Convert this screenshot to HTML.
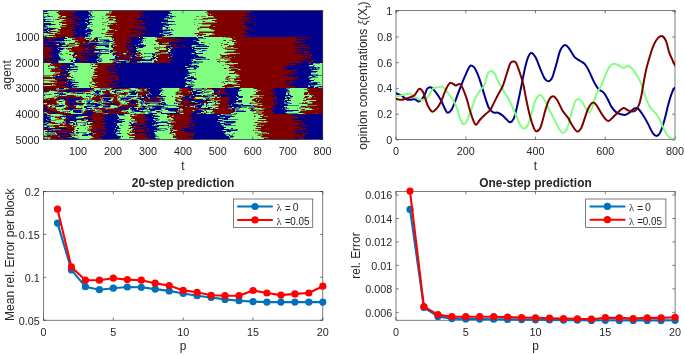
<!DOCTYPE html>
<html><head><meta charset="utf-8"><title>figure</title>
<style>
html,body{margin:0;padding:0;background:#fff;}
svg{display:block;will-change:transform;font-family:"Liberation Sans", sans-serif;}
text{fill:#262626;}
</style></head><body>
<svg width="685" height="355" viewBox="0 0 685 355">
<defs><clipPath id="chm"><rect x="43.3" y="10.5" width="279.5" height="129"/></clipPath><clipPath id="ctr"><rect x="396" y="10.5" width="279" height="129"/></clipPath></defs>
<rect width="685" height="355" fill="#fff"/>
<g clip-path="url(#chm)"><g>
<rect x="42" y="10" width="282" height="131" fill="#00008f"/>
<path fill="#407f87" d="M47 11h1v1h-1zM88 11h1v1h-1zM90 11h2v1h-2zM169 11h2v1h-2zM89 12h2v1h-2zM92 12h1v1h-1zM48 13h1v1h-1zM90 13h1v1h-1zM89 14h1v1h-1zM91 14h1v1h-1zM47 15h2v1h-2zM88 15h1v1h-1zM169 15h3v1h-3zM43 16h5v1h-5zM50 16h3v1h-3zM90 16h5v1h-5zM166 16h3v1h-3zM174 16h2v1h-2zM45 17h1v1h-1zM89 17h4v1h-4zM169 17h4v1h-4zM87 18h1v1h-1zM164 18h2v1h-2zM167 18h2v1h-2zM170 18h2v1h-2zM46 19h5v1h-5zM85 19h3v1h-3zM92 19h2v1h-2zM164 19h4v1h-4zM89 20h1v1h-1zM50 21h4v1h-4zM174 21h1v1h-1zM161 22h1v1h-1zM163 22h5v1h-5zM166 23h2v1h-2zM89 24h4v1h-4zM172 24h4v1h-4zM45 25h2v1h-2zM49 25h1v1h-1zM87 25h1v1h-1zM163 25h4v1h-4zM46 26h2v1h-2zM91 26h1v1h-1zM165 26h1v1h-1zM44 27h4v1h-4zM87 27h3v1h-3zM162 27h1v1h-1zM165 27h1v1h-1zM168 27h2v1h-2zM43 28h4v1h-4zM86 28h1v1h-1zM88 28h2v1h-2zM162 28h1v1h-1zM166 28h1v1h-1zM53 29h2v1h-2zM85 29h1v1h-1zM91 29h1v1h-1zM162 29h1v1h-1zM164 29h6v1h-6zM172 29h1v1h-1zM50 30h1v1h-1zM170 30h4v1h-4zM43 31h3v1h-3zM91 31h1v1h-1zM163 31h4v1h-4zM49 32h2v1h-2zM87 32h4v1h-4zM163 32h6v1h-6zM171 32h1v1h-1zM85 33h1v1h-1zM159 33h1v1h-1zM161 33h3v1h-3zM169 33h1v1h-1zM88 34h4v1h-4zM163 34h1v1h-1zM88 35h2v1h-2zM165 35h1v1h-1zM168 35h3v1h-3zM43 36h4v1h-4zM88 36h2v1h-2zM162 36h2v1h-2zM91 37h1v1h-1zM95 37h1v1h-1zM97 37h5v1h-5zM196 37h1v1h-1zM89 38h3v1h-3zM144 38h2v1h-2zM198 38h8v1h-8zM89 39h2v1h-2zM99 39h10v1h-10zM142 39h1v1h-1zM198 39h1v1h-1zM65 40h1v1h-1zM67 40h4v1h-4zM100 40h4v1h-4zM109 40h1v1h-1zM139 40h1v1h-1zM142 40h2v1h-2zM145 40h1v1h-1zM193 40h3v1h-3zM199 40h1v1h-1zM55 41h7v1h-7zM63 41h1v1h-1zM99 41h7v1h-7zM141 41h2v1h-2zM196 41h1v1h-1zM60 42h5v1h-5zM89 42h8v1h-8zM103 42h7v1h-7zM198 42h1v1h-1zM203 42h2v1h-2zM99 43h10v1h-10zM140 43h1v1h-1zM167 43h2v1h-2zM209 43h1v1h-1zM56 44h1v1h-1zM65 44h1v1h-1zM97 44h12v1h-12zM139 44h1v1h-1zM141 44h3v1h-3zM204 44h1v1h-1zM95 45h1v1h-1zM135 45h1v1h-1zM168 45h3v1h-3zM196 45h3v1h-3zM200 45h7v1h-7zM68 46h4v1h-4zM144 46h2v1h-2zM191 46h1v1h-1zM193 46h3v1h-3zM58 47h3v1h-3zM106 47h3v1h-3zM137 47h2v1h-2zM172 47h1v1h-1zM194 47h1v1h-1zM57 48h1v1h-1zM64 48h1v1h-1zM67 48h1v1h-1zM86 48h1v1h-1zM137 48h1v1h-1zM169 48h1v1h-1zM207 48h1v1h-1zM106 49h3v1h-3zM166 49h1v1h-1zM194 49h1v1h-1zM197 49h4v1h-4zM100 50h2v1h-2zM105 50h4v1h-4zM139 50h2v1h-2zM196 50h1v1h-1zM205 50h2v1h-2zM61 51h1v1h-1zM100 51h11v1h-11zM138 51h1v1h-1zM199 51h4v1h-4zM59 52h1v1h-1zM94 52h7v1h-7zM111 52h1v1h-1zM114 52h1v1h-1zM58 53h4v1h-4zM112 53h1v1h-1zM126 53h1v1h-1zM145 53h7v1h-7zM153 53h5v1h-5zM170 53h1v1h-1zM191 53h1v1h-1zM194 53h1v1h-1zM58 54h1v1h-1zM60 54h3v1h-3zM98 54h4v1h-4zM124 54h2v1h-2zM137 54h3v1h-3zM155 54h1v1h-1zM158 54h1v1h-1zM172 54h1v1h-1zM196 54h1v1h-1zM97 55h2v1h-2zM100 55h1v1h-1zM59 56h1v1h-1zM98 56h2v1h-2zM136 56h4v1h-4zM144 56h7v1h-7zM199 56h4v1h-4zM60 57h1v1h-1zM99 57h1v1h-1zM143 57h2v1h-2zM194 57h1v1h-1zM205 57h1v1h-1zM60 58h3v1h-3zM75 58h1v1h-1zM98 58h4v1h-4zM114 58h1v1h-1zM195 58h11v1h-11zM61 59h3v1h-3zM69 59h2v1h-2zM96 59h1v1h-1zM98 59h4v1h-4zM114 59h2v1h-2zM145 59h5v1h-5zM152 59h2v1h-2zM191 59h2v1h-2zM195 59h1v1h-1zM201 59h7v1h-7zM209 59h1v1h-1zM58 60h6v1h-6zM99 60h4v1h-4zM116 60h3v1h-3zM124 60h4v1h-4zM157 60h1v1h-1zM58 61h1v1h-1zM98 61h1v1h-1zM101 61h1v1h-1zM126 61h3v1h-3zM137 61h3v1h-3zM191 61h1v1h-1zM193 61h1v1h-1zM196 61h7v1h-7zM58 62h1v1h-1zM118 62h3v1h-3zM126 62h2v1h-2zM143 62h9v1h-9zM193 62h1v1h-1zM196 62h7v1h-7zM73 63h1v1h-1zM192 63h7v1h-7zM309 63h1v1h-1zM313 63h1v1h-1zM315 63h5v1h-5zM74 64h1v1h-1zM189 64h3v1h-3zM72 65h3v1h-3zM191 65h3v1h-3zM197 65h1v1h-1zM313 65h2v1h-2zM70 66h5v1h-5zM77 66h1v1h-1zM187 66h1v1h-1zM195 66h1v1h-1zM309 66h4v1h-4zM55 67h1v1h-1zM74 67h4v1h-4zM190 67h4v1h-4zM196 67h3v1h-3zM316 67h2v1h-2zM319 67h1v1h-1zM70 68h1v1h-1zM186 68h1v1h-1zM196 68h1v1h-1zM310 68h2v1h-2zM314 68h1v1h-1zM316 68h4v1h-4zM190 69h6v1h-6zM317 69h2v1h-2zM67 70h1v1h-1zM70 70h2v1h-2zM311 70h2v1h-2zM69 71h1v1h-1zM73 71h4v1h-4zM188 71h1v1h-1zM317 71h1v1h-1zM189 72h7v1h-7zM311 72h5v1h-5zM70 73h1v1h-1zM190 73h2v1h-2zM187 74h2v1h-2zM195 74h1v1h-1zM311 74h7v1h-7zM59 75h1v1h-1zM313 75h3v1h-3zM318 75h4v1h-4zM53 76h3v1h-3zM187 76h1v1h-1zM192 76h2v1h-2zM315 76h1v1h-1zM73 77h1v1h-1zM187 77h1v1h-1zM308 77h2v1h-2zM312 77h6v1h-6zM184 78h3v1h-3zM196 78h1v1h-1zM310 78h1v1h-1zM74 79h1v1h-1zM191 79h1v1h-1zM196 79h1v1h-1zM309 79h1v1h-1zM314 79h1v1h-1zM68 80h1v1h-1zM70 80h5v1h-5zM191 80h1v1h-1zM67 81h1v1h-1zM71 81h2v1h-2zM74 81h1v1h-1zM186 81h3v1h-3zM190 81h4v1h-4zM54 82h1v1h-1zM78 82h1v1h-1zM185 82h1v1h-1zM190 82h5v1h-5zM309 82h4v1h-4zM317 82h3v1h-3zM67 83h1v1h-1zM191 83h1v1h-1zM317 83h1v1h-1zM71 84h1v1h-1zM75 84h3v1h-3zM190 84h4v1h-4zM317 84h4v1h-4zM73 85h1v1h-1zM185 85h1v1h-1zM188 85h7v1h-7zM308 85h2v1h-2zM311 85h4v1h-4zM72 86h1v1h-1zM77 86h2v1h-2zM187 86h1v1h-1zM317 86h2v1h-2zM72 87h5v1h-5zM318 87h1v1h-1zM100 88h10v1h-10zM146 88h1v1h-1zM161 88h1v1h-1zM240 88h1v1h-1zM286 88h4v1h-4zM59 89h4v1h-4zM100 89h7v1h-7zM146 89h1v1h-1zM159 89h4v1h-4zM193 89h13v1h-13zM287 89h1v1h-1zM57 90h1v1h-1zM96 90h1v1h-1zM98 90h3v1h-3zM129 90h6v1h-6zM162 90h2v1h-2zM201 90h1v1h-1zM204 90h2v1h-2zM213 90h1v1h-1zM241 90h1v1h-1zM93 91h1v1h-1zM116 91h1v1h-1zM123 91h1v1h-1zM129 91h3v1h-3zM137 91h2v1h-2zM148 91h1v1h-1zM161 91h1v1h-1zM238 91h1v1h-1zM287 91h3v1h-3zM58 92h5v1h-5zM99 92h2v1h-2zM116 92h5v1h-5zM135 92h1v1h-1zM149 92h1v1h-1zM160 92h1v1h-1zM162 92h1v1h-1zM192 92h1v1h-1zM205 92h4v1h-4zM286 92h4v1h-4zM59 93h1v1h-1zM63 93h3v1h-3zM71 93h6v1h-6zM83 93h2v1h-2zM93 93h4v1h-4zM149 93h1v1h-1zM200 93h4v1h-4zM44 94h5v1h-5zM50 94h2v1h-2zM87 94h1v1h-1zM90 94h2v1h-2zM93 94h6v1h-6zM100 94h1v1h-1zM129 94h1v1h-1zM151 94h1v1h-1zM289 94h1v1h-1zM57 95h3v1h-3zM61 95h1v1h-1zM128 95h1v1h-1zM201 95h1v1h-1zM205 95h7v1h-7zM87 96h1v1h-1zM89 96h2v1h-2zM122 96h1v1h-1zM124 96h1v1h-1zM126 96h1v1h-1zM136 96h1v1h-1zM141 96h1v1h-1zM181 96h4v1h-4zM190 96h1v1h-1zM208 96h6v1h-6zM220 96h1v1h-1zM285 96h3v1h-3zM89 97h2v1h-2zM105 97h1v1h-1zM120 97h14v1h-14zM161 97h1v1h-1zM204 97h6v1h-6zM219 97h1v1h-1zM238 97h1v1h-1zM242 97h1v1h-1zM286 97h1v1h-1zM289 97h3v1h-3zM102 98h1v1h-1zM120 98h1v1h-1zM136 98h1v1h-1zM148 98h2v1h-2zM163 98h2v1h-2zM205 98h3v1h-3zM238 98h1v1h-1zM286 98h1v1h-1zM290 98h1v1h-1zM60 99h4v1h-4zM102 99h2v1h-2zM110 99h1v1h-1zM120 99h1v1h-1zM124 99h2v1h-2zM128 99h1v1h-1zM139 99h1v1h-1zM160 99h2v1h-2zM163 99h1v1h-1zM78 100h1v1h-1zM86 100h7v1h-7zM102 100h2v1h-2zM105 100h1v1h-1zM108 100h1v1h-1zM121 100h1v1h-1zM123 100h3v1h-3zM129 100h1v1h-1zM141 100h1v1h-1zM143 100h1v1h-1zM159 100h3v1h-3zM164 100h1v1h-1zM58 101h1v1h-1zM62 101h1v1h-1zM78 101h1v1h-1zM81 101h1v1h-1zM84 101h1v1h-1zM86 101h3v1h-3zM90 101h2v1h-2zM101 101h1v1h-1zM103 101h3v1h-3zM111 101h1v1h-1zM140 101h3v1h-3zM194 101h1v1h-1zM87 102h1v1h-1zM92 102h2v1h-2zM98 102h4v1h-4zM125 102h1v1h-1zM139 102h2v1h-2zM142 102h3v1h-3zM147 102h1v1h-1zM154 102h4v1h-4zM174 102h1v1h-1zM212 102h2v1h-2zM236 102h1v1h-1zM238 102h4v1h-4zM252 102h1v1h-1zM284 102h2v1h-2zM288 102h2v1h-2zM61 103h1v1h-1zM86 103h1v1h-1zM97 103h3v1h-3zM124 103h1v1h-1zM140 103h1v1h-1zM142 103h3v1h-3zM150 103h8v1h-8zM162 103h2v1h-2zM175 103h1v1h-1zM178 103h1v1h-1zM234 103h2v1h-2zM249 103h1v1h-1zM284 103h6v1h-6zM291 103h1v1h-1zM62 104h1v1h-1zM86 104h5v1h-5zM101 104h1v1h-1zM141 104h2v1h-2zM166 104h2v1h-2zM197 104h4v1h-4zM231 104h1v1h-1zM238 104h3v1h-3zM287 104h1v1h-1zM51 105h8v1h-8zM64 105h1v1h-1zM79 105h4v1h-4zM87 105h6v1h-6zM100 105h8v1h-8zM110 105h1v1h-1zM141 105h3v1h-3zM155 105h6v1h-6zM163 105h14v1h-14zM195 105h2v1h-2zM202 105h2v1h-2zM206 105h3v1h-3zM231 105h1v1h-1zM241 105h1v1h-1zM251 105h2v1h-2zM288 105h11v1h-11zM62 106h2v1h-2zM91 106h2v1h-2zM110 106h1v1h-1zM140 106h2v1h-2zM146 106h6v1h-6zM176 106h1v1h-1zM241 106h13v1h-13zM102 107h8v1h-8zM148 107h2v1h-2zM152 107h3v1h-3zM162 107h6v1h-6zM196 107h2v1h-2zM215 107h1v1h-1zM236 107h3v1h-3zM241 107h6v1h-6zM251 107h5v1h-5zM285 107h1v1h-1zM150 108h3v1h-3zM161 108h5v1h-5zM218 108h1v1h-1zM235 108h5v1h-5zM248 108h3v1h-3zM282 108h1v1h-1zM285 108h4v1h-4zM297 108h1v1h-1zM85 109h3v1h-3zM90 109h2v1h-2zM130 109h2v1h-2zM136 109h1v1h-1zM144 109h1v1h-1zM147 109h2v1h-2zM179 109h1v1h-1zM201 109h3v1h-3zM231 109h1v1h-1zM235 109h4v1h-4zM285 109h2v1h-2zM70 110h2v1h-2zM81 110h2v1h-2zM131 110h1v1h-1zM133 110h1v1h-1zM139 110h1v1h-1zM147 110h1v1h-1zM161 110h1v1h-1zM194 110h1v1h-1zM202 110h1v1h-1zM236 110h8v1h-8zM298 110h1v1h-1zM62 111h7v1h-7zM81 111h2v1h-2zM95 111h6v1h-6zM124 111h1v1h-1zM126 111h1v1h-1zM132 111h3v1h-3zM143 111h9v1h-9zM160 111h1v1h-1zM170 111h5v1h-5zM252 111h2v1h-2zM287 111h6v1h-6zM73 112h2v1h-2zM81 112h1v1h-1zM130 112h4v1h-4zM141 112h4v1h-4zM148 112h4v1h-4zM210 112h1v1h-1zM285 112h1v1h-1zM134 113h2v1h-2zM148 113h1v1h-1zM197 113h4v1h-4zM234 113h2v1h-2zM287 113h11v1h-11zM223 114h13v1h-13zM50 115h1v1h-1zM63 115h3v1h-3zM117 115h1v1h-1zM119 115h6v1h-6zM155 115h3v1h-3zM217 115h1v1h-1zM219 115h1v1h-1zM225 115h7v1h-7zM47 116h5v1h-5zM78 116h4v1h-4zM152 116h1v1h-1zM159 116h1v1h-1zM234 116h1v1h-1zM50 117h1v1h-1zM220 117h3v1h-3zM49 118h2v1h-2zM76 118h5v1h-5zM117 119h1v1h-1zM124 119h1v1h-1zM155 119h5v1h-5zM222 119h2v1h-2zM228 119h10v1h-10zM47 120h2v1h-2zM50 120h2v1h-2zM119 120h3v1h-3zM132 120h1v1h-1zM154 120h2v1h-2zM157 120h2v1h-2zM222 120h1v1h-1zM65 121h1v1h-1zM86 121h1v1h-1zM161 121h7v1h-7zM217 121h7v1h-7zM235 121h1v1h-1zM45 122h3v1h-3zM65 122h1v1h-1zM73 122h1v1h-1zM77 122h11v1h-11zM92 122h1v1h-1zM114 122h1v1h-1zM134 122h3v1h-3zM152 122h1v1h-1zM167 122h1v1h-1zM224 122h2v1h-2zM235 122h1v1h-1zM43 123h4v1h-4zM48 123h1v1h-1zM59 123h1v1h-1zM64 123h2v1h-2zM69 123h3v1h-3zM85 123h1v1h-1zM157 123h2v1h-2zM225 123h8v1h-8zM75 124h1v1h-1zM85 124h1v1h-1zM120 124h1v1h-1zM154 124h1v1h-1zM156 124h1v1h-1zM43 125h4v1h-4zM48 125h1v1h-1zM73 125h1v1h-1zM80 125h4v1h-4zM85 125h1v1h-1zM91 125h2v1h-2zM117 125h1v1h-1zM120 125h3v1h-3zM152 125h2v1h-2zM155 125h2v1h-2zM164 125h4v1h-4zM222 125h2v1h-2zM225 125h11v1h-11zM169 126h4v1h-4zM223 126h1v1h-1zM48 127h2v1h-2zM156 127h2v1h-2zM120 128h1v1h-1zM157 128h10v1h-10zM171 128h1v1h-1zM52 129h3v1h-3zM89 129h1v1h-1zM159 129h2v1h-2zM165 129h3v1h-3zM229 129h7v1h-7zM237 129h1v1h-1zM49 130h3v1h-3zM89 130h1v1h-1zM114 130h1v1h-1zM118 130h3v1h-3zM128 130h1v1h-1zM154 130h11v1h-11zM222 130h1v1h-1zM226 130h1v1h-1zM237 130h1v1h-1zM89 131h1v1h-1zM117 131h3v1h-3zM226 131h1v1h-1zM79 132h8v1h-8zM92 132h1v1h-1zM119 132h1v1h-1zM225 132h1v1h-1zM45 133h10v1h-10zM56 133h1v1h-1zM69 133h6v1h-6zM76 133h3v1h-3zM83 133h3v1h-3zM115 133h2v1h-2zM121 133h1v1h-1zM134 133h1v1h-1zM171 133h1v1h-1zM175 133h1v1h-1zM224 133h1v1h-1zM233 133h2v1h-2zM46 134h10v1h-10zM82 134h3v1h-3zM116 134h1v1h-1zM155 134h1v1h-1zM225 134h5v1h-5zM232 134h1v1h-1zM75 135h3v1h-3zM117 135h1v1h-1zM155 135h2v1h-2zM226 135h1v1h-1zM230 135h3v1h-3zM58 136h2v1h-2zM156 136h3v1h-3zM44 137h1v1h-1zM120 137h1v1h-1zM229 137h4v1h-4zM44 138h4v1h-4zM119 138h2v1h-2zM156 138h4v1h-4zM53 139h1v1h-1zM71 139h3v1h-3zM118 139h2v1h-2zM154 139h1v1h-1zM229 139h2v1h-2zM232 139h1v1h-1z"/>
<path fill="#80ff80" d="M48 11h10v1h-10zM89 11h1v1h-1zM92 11h17v1h-17zM171 11h36v1h-36zM43 12h13v1h-13zM91 12h1v1h-1zM93 12h16v1h-16zM170 12h35v1h-35zM49 13h9v1h-9zM91 13h15v1h-15zM172 13h35v1h-35zM43 14h16v1h-16zM92 14h14v1h-14zM168 14h39v1h-39zM210 14h1v1h-1zM43 15h4v1h-4zM49 15h11v1h-11zM89 15h1v1h-1zM92 15h13v1h-13zM172 15h36v1h-36zM53 16h6v1h-6zM62 16h4v1h-4zM95 16h7v1h-7zM103 16h6v1h-6zM111 16h4v1h-4zM169 16h1v1h-1zM176 16h20v1h-20zM199 16h2v1h-2zM206 16h7v1h-7zM46 17h12v1h-12zM93 17h15v1h-15zM173 17h35v1h-35zM43 18h16v1h-16zM89 18h13v1h-13zM104 18h2v1h-2zM166 18h1v1h-1zM172 18h30v1h-30zM51 19h2v1h-2zM54 19h1v1h-1zM60 19h4v1h-4zM94 19h15v1h-15zM113 19h3v1h-3zM168 19h26v1h-26zM197 19h2v1h-2zM208 19h8v1h-8zM45 20h17v1h-17zM90 20h19v1h-19zM168 20h44v1h-44zM54 21h7v1h-7zM89 21h18v1h-18zM108 21h6v1h-6zM175 21h27v1h-27zM205 21h10v1h-10zM43 22h16v1h-16zM85 22h2v1h-2zM92 22h10v1h-10zM107 22h8v1h-8zM162 22h1v1h-1zM168 22h26v1h-26zM195 22h10v1h-10zM51 23h11v1h-11zM87 23h1v1h-1zM90 23h18v1h-18zM168 23h30v1h-30zM56 24h3v1h-3zM60 24h6v1h-6zM93 24h9v1h-9zM104 24h6v1h-6zM176 24h18v1h-18zM195 24h7v1h-7zM47 25h2v1h-2zM51 25h10v1h-10zM88 25h17v1h-17zM106 25h1v1h-1zM169 25h28v1h-28zM198 25h12v1h-12zM48 26h12v1h-12zM87 26h4v1h-4zM92 26h15v1h-15zM166 26h34v1h-34zM48 27h1v1h-1zM50 27h10v1h-10zM90 27h19v1h-19zM163 27h2v1h-2zM170 27h28v1h-28zM58 28h3v1h-3zM87 28h1v1h-1zM90 28h14v1h-14zM105 28h4v1h-4zM163 28h3v1h-3zM168 28h29v1h-29zM201 28h8v1h-8zM48 29h1v1h-1zM55 29h3v1h-3zM86 29h1v1h-1zM92 29h10v1h-10zM105 29h7v1h-7zM163 29h1v1h-1zM170 29h1v1h-1zM173 29h24v1h-24zM199 29h12v1h-12zM47 30h1v1h-1zM51 30h7v1h-7zM93 30h14v1h-14zM115 30h1v1h-1zM174 30h40v1h-40zM48 31h1v1h-1zM92 31h15v1h-15zM167 31h32v1h-32zM51 32h6v1h-6zM91 32h15v1h-15zM172 32h27v1h-27zM43 33h4v1h-4zM86 33h1v1h-1zM91 33h10v1h-10zM106 33h1v1h-1zM160 33h1v1h-1zM170 33h24v1h-24zM203 33h9v1h-9zM43 34h12v1h-12zM92 34h13v1h-13zM164 34h5v1h-5zM173 34h25v1h-25zM206 34h6v1h-6zM43 35h2v1h-2zM90 35h22v1h-22zM166 35h1v1h-1zM171 35h26v1h-26zM202 35h7v1h-7zM47 36h6v1h-6zM90 36h14v1h-14zM164 36h33v1h-33zM198 36h6v1h-6zM65 37h3v1h-3zM85 37h6v1h-6zM92 37h3v1h-3zM102 37h9v1h-9zM139 37h1v1h-1zM143 37h12v1h-12zM197 37h1v1h-1zM203 37h20v1h-20zM224 37h1v1h-1zM67 38h5v1h-5zM92 38h2v1h-2zM98 38h14v1h-14zM113 38h1v1h-1zM146 38h11v1h-11zM206 38h26v1h-26zM64 39h8v1h-8zM86 39h3v1h-3zM91 39h2v1h-2zM98 39h1v1h-1zM109 39h3v1h-3zM143 39h14v1h-14zM199 39h33v1h-33zM71 40h4v1h-4zM90 40h1v1h-1zM95 40h1v1h-1zM98 40h2v1h-2zM110 40h3v1h-3zM144 40h1v1h-1zM146 40h9v1h-9zM200 40h23v1h-23zM226 40h3v1h-3zM234 40h2v1h-2zM62 41h1v1h-1zM64 41h11v1h-11zM113 41h1v1h-1zM143 41h13v1h-13zM197 41h35v1h-35zM65 42h9v1h-9zM97 42h6v1h-6zM110 42h3v1h-3zM143 42h16v1h-16zM199 42h2v1h-2zM205 42h22v1h-22zM229 42h5v1h-5zM65 43h4v1h-4zM75 43h2v1h-2zM109 43h2v1h-2zM141 43h17v1h-17zM166 43h1v1h-1zM199 43h10v1h-10zM210 43h11v1h-11zM223 43h11v1h-11zM57 44h2v1h-2zM66 44h1v1h-1zM109 44h3v1h-3zM138 44h1v1h-1zM144 44h10v1h-10zM156 44h3v1h-3zM205 44h19v1h-19zM228 44h6v1h-6zM62 45h4v1h-4zM75 45h4v1h-4zM109 45h2v1h-2zM146 45h20v1h-20zM192 45h4v1h-4zM207 45h14v1h-14zM222 45h7v1h-7zM96 46h9v1h-9zM109 46h2v1h-2zM113 46h1v1h-1zM146 46h13v1h-13zM160 46h6v1h-6zM192 46h1v1h-1zM209 46h18v1h-18zM61 47h11v1h-11zM98 47h8v1h-8zM109 47h2v1h-2zM136 47h1v1h-1zM143 47h11v1h-11zM195 47h27v1h-27zM223 47h2v1h-2zM231 47h2v1h-2zM65 48h1v1h-1zM96 48h17v1h-17zM138 48h16v1h-16zM156 48h1v1h-1zM160 48h6v1h-6zM168 48h1v1h-1zM192 48h1v1h-1zM208 48h15v1h-15zM58 49h1v1h-1zM63 49h4v1h-4zM109 49h4v1h-4zM136 49h20v1h-20zM159 49h7v1h-7zM169 49h2v1h-2zM195 49h2v1h-2zM201 49h24v1h-24zM60 50h9v1h-9zM102 50h3v1h-3zM109 50h1v1h-1zM137 50h1v1h-1zM141 50h18v1h-18zM168 50h2v1h-2zM197 50h5v1h-5zM207 50h27v1h-27zM62 51h7v1h-7zM95 51h4v1h-4zM139 51h19v1h-19zM168 51h2v1h-2zM195 51h4v1h-4zM203 51h24v1h-24zM60 52h13v1h-13zM101 52h9v1h-9zM112 52h1v1h-1zM136 52h1v1h-1zM141 52h14v1h-14zM166 52h2v1h-2zM196 52h28v1h-28zM62 53h4v1h-4zM68 53h6v1h-6zM109 53h3v1h-3zM123 53h3v1h-3zM142 53h2v1h-2zM192 53h2v1h-2zM203 53h33v1h-33zM59 54h1v1h-1zM63 54h6v1h-6zM71 54h2v1h-2zM102 54h10v1h-10zM140 54h1v1h-1zM143 54h9v1h-9zM157 54h1v1h-1zM197 54h23v1h-23zM221 54h6v1h-6zM59 55h13v1h-13zM75 55h2v1h-2zM101 55h12v1h-12zM114 55h2v1h-2zM135 55h1v1h-1zM141 55h12v1h-12zM155 55h1v1h-1zM198 55h22v1h-22zM60 56h13v1h-13zM100 56h15v1h-15zM140 56h1v1h-1zM143 56h1v1h-1zM151 56h1v1h-1zM154 56h2v1h-2zM203 56h18v1h-18zM61 57h12v1h-12zM100 57h15v1h-15zM131 57h1v1h-1zM145 57h8v1h-8zM156 57h2v1h-2zM168 57h1v1h-1zM206 57h14v1h-14zM63 58h12v1h-12zM102 58h12v1h-12zM142 58h9v1h-9zM155 58h1v1h-1zM206 58h14v1h-14zM65 59h4v1h-4zM71 59h5v1h-5zM97 59h1v1h-1zM102 59h7v1h-7zM154 59h3v1h-3zM193 59h2v1h-2zM210 59h6v1h-6zM220 59h4v1h-4zM64 60h7v1h-7zM73 60h1v1h-1zM103 60h7v1h-7zM111 60h1v1h-1zM119 60h5v1h-5zM152 60h2v1h-2zM156 60h1v1h-1zM193 60h26v1h-26zM220 60h8v1h-8zM59 61h11v1h-11zM73 61h2v1h-2zM97 61h1v1h-1zM102 61h11v1h-11zM140 61h14v1h-14zM192 61h1v1h-1zM203 61h14v1h-14zM59 62h14v1h-14zM98 62h14v1h-14zM117 62h1v1h-1zM141 62h1v1h-1zM152 62h1v1h-1zM203 62h16v1h-16zM220 62h5v1h-5zM43 63h8v1h-8zM74 63h16v1h-16zM92 63h1v1h-1zM199 63h39v1h-39zM314 63h1v1h-1zM320 63h3v1h-3zM43 64h7v1h-7zM75 64h16v1h-16zM93 64h2v1h-2zM192 64h33v1h-33zM313 64h10v1h-10zM43 65h5v1h-5zM70 65h2v1h-2zM75 65h15v1h-15zM91 65h6v1h-6zM198 65h24v1h-24zM224 65h5v1h-5zM309 65h4v1h-4zM315 65h8v1h-8zM43 66h5v1h-5zM50 66h4v1h-4zM78 66h14v1h-14zM185 66h2v1h-2zM199 66h31v1h-31zM314 66h9v1h-9zM43 67h12v1h-12zM78 67h19v1h-19zM199 67h30v1h-30zM320 67h3v1h-3zM43 68h5v1h-5zM68 68h1v1h-1zM71 68h20v1h-20zM93 68h2v1h-2zM187 68h7v1h-7zM197 68h27v1h-27zM227 68h1v1h-1zM320 68h3v1h-3zM43 69h8v1h-8zM78 69h16v1h-16zM196 69h35v1h-35zM238 69h2v1h-2zM319 69h4v1h-4zM43 70h7v1h-7zM72 70h22v1h-22zM188 70h41v1h-41zM313 70h10v1h-10zM43 71h7v1h-7zM70 71h3v1h-3zM77 71h17v1h-17zM189 71h46v1h-46zM318 71h5v1h-5zM43 72h12v1h-12zM59 72h1v1h-1zM68 72h25v1h-25zM196 72h38v1h-38zM316 72h7v1h-7zM43 73h11v1h-11zM71 73h23v1h-23zM192 73h37v1h-37zM311 73h12v1h-12zM43 74h10v1h-10zM70 74h23v1h-23zM189 74h6v1h-6zM196 74h40v1h-40zM318 74h5v1h-5zM58 75h1v1h-1zM70 75h2v1h-2zM73 75h24v1h-24zM190 75h49v1h-49zM322 75h1v1h-1zM50 76h3v1h-3zM71 76h21v1h-21zM188 76h3v1h-3zM194 76h33v1h-33zM231 76h4v1h-4zM309 76h3v1h-3zM316 76h7v1h-7zM67 77h1v1h-1zM69 77h2v1h-2zM74 77h17v1h-17zM185 77h2v1h-2zM194 77h32v1h-32zM229 77h7v1h-7zM318 77h5v1h-5zM68 78h24v1h-24zM197 78h28v1h-28zM311 78h12v1h-12zM43 79h12v1h-12zM73 79h1v1h-1zM75 79h17v1h-17zM187 79h4v1h-4zM192 79h2v1h-2zM197 79h28v1h-28zM230 79h4v1h-4zM310 79h4v1h-4zM315 79h8v1h-8zM75 80h17v1h-17zM192 80h36v1h-36zM231 80h3v1h-3zM237 80h2v1h-2zM314 80h9v1h-9zM43 81h6v1h-6zM73 81h1v1h-1zM75 81h16v1h-16zM194 81h29v1h-29zM224 81h1v1h-1zM311 81h12v1h-12zM43 82h11v1h-11zM79 82h10v1h-10zM92 82h2v1h-2zM186 82h4v1h-4zM195 82h26v1h-26zM224 82h9v1h-9zM320 82h3v1h-3zM72 83h18v1h-18zM92 83h3v1h-3zM187 83h4v1h-4zM192 83h32v1h-32zM225 83h11v1h-11zM318 83h5v1h-5zM52 84h1v1h-1zM78 84h14v1h-14zM194 84h33v1h-33zM321 84h2v1h-2zM43 85h8v1h-8zM74 85h15v1h-15zM90 85h4v1h-4zM186 85h2v1h-2zM195 85h29v1h-29zM315 85h8v1h-8zM79 86h10v1h-10zM94 86h3v1h-3zM185 86h2v1h-2zM193 86h29v1h-29zM234 86h6v1h-6zM308 86h2v1h-2zM314 86h3v1h-3zM322 86h1v1h-1zM77 87h13v1h-13zM91 87h3v1h-3zM191 87h34v1h-34zM314 87h1v1h-1zM319 87h4v1h-4zM58 88h1v1h-1zM64 88h2v1h-2zM67 88h1v1h-1zM94 88h6v1h-6zM110 88h1v1h-1zM131 88h4v1h-4zM162 88h17v1h-17zM206 88h1v1h-1zM241 88h12v1h-12zM290 88h17v1h-17zM95 89h5v1h-5zM107 89h3v1h-3zM120 89h1v1h-1zM126 89h1v1h-1zM131 89h7v1h-7zM145 89h1v1h-1zM163 89h16v1h-16zM239 89h18v1h-18zM288 89h16v1h-16zM94 90h2v1h-2zM101 90h5v1h-5zM111 90h4v1h-4zM121 90h1v1h-1zM123 90h6v1h-6zM136 90h4v1h-4zM164 90h15v1h-15zM193 90h3v1h-3zM202 90h2v1h-2zM206 90h7v1h-7zM242 90h14v1h-14zM289 90h18v1h-18zM49 91h6v1h-6zM92 91h1v1h-1zM101 91h1v1h-1zM110 91h2v1h-2zM117 91h6v1h-6zM124 91h5v1h-5zM135 91h1v1h-1zM162 91h15v1h-15zM191 91h1v1h-1zM197 91h4v1h-4zM205 91h1v1h-1zM212 91h2v1h-2zM239 91h15v1h-15zM256 91h2v1h-2zM290 91h18v1h-18zM47 92h10v1h-10zM63 92h3v1h-3zM85 92h10v1h-10zM101 92h1v1h-1zM110 92h4v1h-4zM121 92h1v1h-1zM123 92h1v1h-1zM161 92h1v1h-1zM163 92h12v1h-12zM203 92h1v1h-1zM209 92h5v1h-5zM238 92h18v1h-18zM290 92h14v1h-14zM43 93h11v1h-11zM66 93h5v1h-5zM85 93h1v1h-1zM91 93h2v1h-2zM99 93h4v1h-4zM112 93h3v1h-3zM116 93h1v1h-1zM128 93h3v1h-3zM137 93h1v1h-1zM160 93h16v1h-16zM192 93h1v1h-1zM204 93h8v1h-8zM238 93h18v1h-18zM286 93h2v1h-2zM289 93h15v1h-15zM308 93h1v1h-1zM43 94h1v1h-1zM52 94h7v1h-7zM66 94h21v1h-21zM88 94h2v1h-2zM101 94h1v1h-1zM117 94h1v1h-1zM128 94h1v1h-1zM136 94h2v1h-2zM146 94h1v1h-1zM159 94h2v1h-2zM163 94h12v1h-12zM196 94h11v1h-11zM238 94h15v1h-15zM286 94h2v1h-2zM290 94h14v1h-14zM45 95h10v1h-10zM56 95h1v1h-1zM60 95h1v1h-1zM62 95h4v1h-4zM76 95h1v1h-1zM78 95h16v1h-16zM119 95h5v1h-5zM126 95h2v1h-2zM129 95h9v1h-9zM146 95h1v1h-1zM161 95h22v1h-22zM193 95h1v1h-1zM202 95h1v1h-1zM214 95h3v1h-3zM239 95h20v1h-20zM291 95h20v1h-20zM43 96h11v1h-11zM82 96h4v1h-4zM91 96h2v1h-2zM120 96h2v1h-2zM123 96h1v1h-1zM125 96h1v1h-1zM166 96h6v1h-6zM173 96h6v1h-6zM236 96h1v1h-1zM243 96h7v1h-7zM258 96h1v1h-1zM288 96h2v1h-2zM293 96h12v1h-12zM309 96h3v1h-3zM43 97h1v1h-1zM45 97h7v1h-7zM55 97h2v1h-2zM83 97h6v1h-6zM91 97h1v1h-1zM117 97h1v1h-1zM134 97h4v1h-4zM141 97h3v1h-3zM163 97h12v1h-12zM195 97h8v1h-8zM210 97h5v1h-5zM217 97h2v1h-2zM237 97h1v1h-1zM243 97h7v1h-7zM253 97h3v1h-3zM285 97h1v1h-1zM292 97h12v1h-12zM308 97h2v1h-2zM43 98h2v1h-2zM54 98h1v1h-1zM88 98h1v1h-1zM112 98h1v1h-1zM118 98h2v1h-2zM131 98h5v1h-5zM165 98h11v1h-11zM196 98h9v1h-9zM239 98h15v1h-15zM291 98h12v1h-12zM305 98h1v1h-1zM86 99h1v1h-1zM88 99h1v1h-1zM111 99h2v1h-2zM118 99h2v1h-2zM129 99h2v1h-2zM137 99h2v1h-2zM165 99h10v1h-10zM178 99h2v1h-2zM203 99h3v1h-3zM213 99h1v1h-1zM238 99h14v1h-14zM256 99h1v1h-1zM285 99h3v1h-3zM289 99h17v1h-17zM59 100h4v1h-4zM82 100h4v1h-4zM93 100h1v1h-1zM101 100h1v1h-1zM109 100h3v1h-3zM122 100h1v1h-1zM139 100h2v1h-2zM165 100h10v1h-10zM179 100h3v1h-3zM236 100h2v1h-2zM242 100h10v1h-10zM284 100h1v1h-1zM291 100h12v1h-12zM307 100h9v1h-9zM57 101h1v1h-1zM63 101h2v1h-2zM76 101h2v1h-2zM82 101h2v1h-2zM85 101h1v1h-1zM92 101h2v1h-2zM102 101h1v1h-1zM119 101h6v1h-6zM138 101h2v1h-2zM144 101h1v1h-1zM161 101h15v1h-15zM192 101h2v1h-2zM207 101h7v1h-7zM216 101h1v1h-1zM242 101h12v1h-12zM258 101h1v1h-1zM287 101h22v1h-22zM57 102h8v1h-8zM82 102h5v1h-5zM90 102h2v1h-2zM94 102h4v1h-4zM102 102h1v1h-1zM121 102h4v1h-4zM126 102h3v1h-3zM160 102h1v1h-1zM165 102h9v1h-9zM175 102h3v1h-3zM214 102h1v1h-1zM237 102h1v1h-1zM242 102h8v1h-8zM253 102h2v1h-2zM290 102h12v1h-12zM304 102h1v1h-1zM308 102h4v1h-4zM43 103h4v1h-4zM59 103h2v1h-2zM62 103h3v1h-3zM85 103h1v1h-1zM100 103h1v1h-1zM122 103h2v1h-2zM125 103h2v1h-2zM136 103h1v1h-1zM138 103h2v1h-2zM166 103h8v1h-8zM204 103h2v1h-2zM208 103h7v1h-7zM216 103h4v1h-4zM236 103h13v1h-13zM292 103h7v1h-7zM59 104h3v1h-3zM63 104h2v1h-2zM84 104h2v1h-2zM102 104h1v1h-1zM139 104h2v1h-2zM143 104h3v1h-3zM147 104h9v1h-9zM168 104h10v1h-10zM204 104h2v1h-2zM207 104h6v1h-6zM243 104h14v1h-14zM288 104h19v1h-19zM48 105h3v1h-3zM65 105h1v1h-1zM77 105h2v1h-2zM83 105h4v1h-4zM93 105h2v1h-2zM111 105h3v1h-3zM138 105h3v1h-3zM144 105h4v1h-4zM161 105h2v1h-2zM177 105h1v1h-1zM204 105h2v1h-2zM209 105h2v1h-2zM260 105h2v1h-2zM299 105h8v1h-8zM49 106h1v1h-1zM52 106h3v1h-3zM64 106h2v1h-2zM76 106h8v1h-8zM98 106h5v1h-5zM111 106h6v1h-6zM139 106h1v1h-1zM164 106h12v1h-12zM190 106h3v1h-3zM194 106h1v1h-1zM202 106h4v1h-4zM207 106h11v1h-11zM284 106h17v1h-17zM56 107h9v1h-9zM76 107h5v1h-5zM82 107h2v1h-2zM87 107h7v1h-7zM99 107h3v1h-3zM110 107h5v1h-5zM116 107h1v1h-1zM135 107h4v1h-4zM150 107h2v1h-2zM168 107h11v1h-11zM194 107h1v1h-1zM201 107h4v1h-4zM206 107h2v1h-2zM212 107h3v1h-3zM232 107h2v1h-2zM247 107h2v1h-2zM287 107h12v1h-12zM56 108h7v1h-7zM83 108h3v1h-3zM92 108h1v1h-1zM107 108h1v1h-1zM129 108h1v1h-1zM137 108h1v1h-1zM147 108h2v1h-2zM210 108h3v1h-3zM216 108h2v1h-2zM240 108h8v1h-8zM255 108h6v1h-6zM289 108h8v1h-8zM298 108h1v1h-1zM301 108h8v1h-8zM60 109h1v1h-1zM82 109h3v1h-3zM88 109h2v1h-2zM93 109h1v1h-1zM95 109h1v1h-1zM129 109h1v1h-1zM137 109h1v1h-1zM161 109h4v1h-4zM178 109h1v1h-1zM180 109h3v1h-3zM239 109h12v1h-12zM260 109h2v1h-2zM287 109h14v1h-14zM305 109h7v1h-7zM57 110h13v1h-13zM72 110h1v1h-1zM83 110h2v1h-2zM95 110h2v1h-2zM126 110h5v1h-5zM140 110h2v1h-2zM143 110h4v1h-4zM148 110h2v1h-2zM155 110h6v1h-6zM163 110h5v1h-5zM193 110h1v1h-1zM203 110h1v1h-1zM206 110h7v1h-7zM235 110h1v1h-1zM244 110h6v1h-6zM299 110h2v1h-2zM60 111h2v1h-2zM70 111h3v1h-3zM83 111h1v1h-1zM122 111h2v1h-2zM125 111h1v1h-1zM128 111h4v1h-4zM152 111h4v1h-4zM161 111h9v1h-9zM204 111h2v1h-2zM207 111h5v1h-5zM246 111h6v1h-6zM254 111h2v1h-2zM293 111h7v1h-7zM45 112h1v1h-1zM66 112h1v1h-1zM68 112h5v1h-5zM129 112h1v1h-1zM134 112h7v1h-7zM145 112h3v1h-3zM152 112h5v1h-5zM162 112h14v1h-14zM201 112h3v1h-3zM205 112h1v1h-1zM209 112h1v1h-1zM234 112h22v1h-22zM286 112h12v1h-12zM71 113h11v1h-11zM107 113h1v1h-1zM130 113h4v1h-4zM136 113h4v1h-4zM142 113h1v1h-1zM145 113h3v1h-3zM157 113h4v1h-4zM180 113h3v1h-3zM206 113h5v1h-5zM231 113h3v1h-3zM237 113h16v1h-16zM298 113h5v1h-5zM47 114h3v1h-3zM51 114h9v1h-9zM117 114h1v1h-1zM124 114h6v1h-6zM153 114h14v1h-14zM221 114h2v1h-2zM236 114h22v1h-22zM51 115h12v1h-12zM118 115h1v1h-1zM125 115h5v1h-5zM132 115h2v1h-2zM158 115h10v1h-10zM218 115h1v1h-1zM232 115h22v1h-22zM255 115h8v1h-8zM82 116h5v1h-5zM118 116h12v1h-12zM160 116h7v1h-7zM172 116h1v1h-1zM235 116h19v1h-19zM256 116h4v1h-4zM51 117h4v1h-4zM61 117h3v1h-3zM65 117h1v1h-1zM76 117h8v1h-8zM119 117h13v1h-13zM154 117h13v1h-13zM169 117h2v1h-2zM223 117h2v1h-2zM230 117h32v1h-32zM51 118h6v1h-6zM62 118h3v1h-3zM119 118h12v1h-12zM158 118h14v1h-14zM228 118h30v1h-30zM46 119h1v1h-1zM51 119h4v1h-4zM118 119h1v1h-1zM125 119h5v1h-5zM131 119h4v1h-4zM153 119h2v1h-2zM160 119h6v1h-6zM167 119h1v1h-1zM171 119h2v1h-2zM218 119h4v1h-4zM238 119h15v1h-15zM254 119h12v1h-12zM56 120h8v1h-8zM77 120h4v1h-4zM86 120h2v1h-2zM122 120h9v1h-9zM159 120h9v1h-9zM223 120h34v1h-34zM51 121h12v1h-12zM70 121h4v1h-4zM76 121h10v1h-10zM125 121h6v1h-6zM156 121h5v1h-5zM168 121h1v1h-1zM236 121h26v1h-26zM264 121h2v1h-2zM55 122h5v1h-5zM61 122h1v1h-1zM74 122h2v1h-2zM88 122h4v1h-4zM122 122h7v1h-7zM131 122h3v1h-3zM168 122h3v1h-3zM220 122h4v1h-4zM236 122h18v1h-18zM49 123h1v1h-1zM72 123h1v1h-1zM75 123h1v1h-1zM77 123h7v1h-7zM86 123h1v1h-1zM88 123h2v1h-2zM117 123h13v1h-13zM132 123h1v1h-1zM159 123h8v1h-8zM233 123h25v1h-25zM47 124h13v1h-13zM63 124h1v1h-1zM70 124h3v1h-3zM78 124h5v1h-5zM86 124h1v1h-1zM117 124h3v1h-3zM121 124h10v1h-10zM155 124h1v1h-1zM157 124h11v1h-11zM169 124h1v1h-1zM221 124h3v1h-3zM231 124h26v1h-26zM74 125h2v1h-2zM78 125h2v1h-2zM86 125h5v1h-5zM118 125h2v1h-2zM123 125h5v1h-5zM154 125h1v1h-1zM169 125h2v1h-2zM224 125h1v1h-1zM236 125h17v1h-17zM256 125h1v1h-1zM43 126h4v1h-4zM59 126h5v1h-5zM72 126h1v1h-1zM76 126h13v1h-13zM116 126h1v1h-1zM119 126h13v1h-13zM159 126h9v1h-9zM224 126h32v1h-32zM50 127h5v1h-5zM75 127h12v1h-12zM88 127h1v1h-1zM119 127h11v1h-11zM158 127h10v1h-10zM169 127h2v1h-2zM226 127h35v1h-35zM75 128h2v1h-2zM79 128h6v1h-6zM86 128h2v1h-2zM115 128h1v1h-1zM121 128h7v1h-7zM131 128h1v1h-1zM167 128h3v1h-3zM224 128h7v1h-7zM233 128h22v1h-22zM75 129h12v1h-12zM117 129h15v1h-15zM161 129h4v1h-4zM168 129h2v1h-2zM238 129h20v1h-20zM43 130h4v1h-4zM74 130h2v1h-2zM78 130h9v1h-9zM121 130h6v1h-6zM129 130h2v1h-2zM165 130h5v1h-5zM173 130h4v1h-4zM223 130h3v1h-3zM238 130h15v1h-15zM254 130h1v1h-1zM43 131h2v1h-2zM72 131h1v1h-1zM75 131h14v1h-14zM90 131h1v1h-1zM120 131h10v1h-10zM131 131h1v1h-1zM157 131h14v1h-14zM172 131h1v1h-1zM231 131h30v1h-30zM43 132h4v1h-4zM49 132h1v1h-1zM74 132h2v1h-2zM87 132h4v1h-4zM116 132h3v1h-3zM120 132h9v1h-9zM154 132h16v1h-16zM226 132h29v1h-29zM258 132h4v1h-4zM43 133h2v1h-2zM55 133h1v1h-1zM75 133h1v1h-1zM79 133h4v1h-4zM86 133h3v1h-3zM122 133h5v1h-5zM129 133h5v1h-5zM155 133h14v1h-14zM172 133h3v1h-3zM225 133h8v1h-8zM235 133h20v1h-20zM256 133h1v1h-1zM268 133h1v1h-1zM43 134h3v1h-3zM56 134h1v1h-1zM76 134h6v1h-6zM117 134h11v1h-11zM156 134h16v1h-16zM174 134h1v1h-1zM230 134h2v1h-2zM233 134h25v1h-25zM43 135h1v1h-1zM46 135h1v1h-1zM78 135h4v1h-4zM88 135h1v1h-1zM118 135h11v1h-11zM157 135h16v1h-16zM227 135h2v1h-2zM233 135h24v1h-24zM72 136h20v1h-20zM121 136h1v1h-1zM123 136h12v1h-12zM159 136h14v1h-14zM229 136h1v1h-1zM234 136h27v1h-27zM43 137h1v1h-1zM45 137h2v1h-2zM75 137h18v1h-18zM121 137h8v1h-8zM155 137h18v1h-18zM233 137h29v1h-29zM48 138h2v1h-2zM77 138h13v1h-13zM121 138h13v1h-13zM160 138h16v1h-16zM230 138h34v1h-34zM48 139h3v1h-3zM116 139h2v1h-2zM120 139h13v1h-13zM155 139h15v1h-15zM171 139h4v1h-4zM225 139h4v1h-4zM231 139h1v1h-1zM233 139h24v1h-24zM266 139h4v1h-4z"/>
<path fill="#807f40" d="M58 11h1v1h-1zM109 11h3v1h-3zM56 12h1v1h-1zM59 12h1v1h-1zM109 12h3v1h-3zM205 12h3v1h-3zM106 13h5v1h-5zM207 13h2v1h-2zM207 14h1v1h-1zM60 15h1v1h-1zM105 15h5v1h-5zM59 16h1v1h-1zM102 16h1v1h-1zM109 16h2v1h-2zM115 16h1v1h-1zM196 16h3v1h-3zM201 16h5v1h-5zM213 16h1v1h-1zM60 17h3v1h-3zM64 17h1v1h-1zM208 17h6v1h-6zM59 18h1v1h-1zM102 18h2v1h-2zM106 18h9v1h-9zM202 18h1v1h-1zM214 18h1v1h-1zM53 19h1v1h-1zM55 19h2v1h-2zM59 19h1v1h-1zM64 19h2v1h-2zM194 19h3v1h-3zM199 19h9v1h-9zM216 19h1v1h-1zM62 20h1v1h-1zM109 20h6v1h-6zM61 21h5v1h-5zM114 21h2v1h-2zM202 21h1v1h-1zM102 22h5v1h-5zM115 22h2v1h-2zM194 22h1v1h-1zM205 22h12v1h-12zM109 23h2v1h-2zM198 23h4v1h-4zM55 24h1v1h-1zM66 24h1v1h-1zM102 24h2v1h-2zM110 24h3v1h-3zM116 24h1v1h-1zM194 24h1v1h-1zM202 24h9v1h-9zM50 25h1v1h-1zM61 25h1v1h-1zM105 25h1v1h-1zM107 25h1v1h-1zM197 25h1v1h-1zM210 25h1v1h-1zM60 26h6v1h-6zM107 26h2v1h-2zM200 26h9v1h-9zM213 26h2v1h-2zM49 27h1v1h-1zM60 27h1v1h-1zM109 27h1v1h-1zM198 27h2v1h-2zM56 28h2v1h-2zM104 28h1v1h-1zM109 28h1v1h-1zM197 28h4v1h-4zM209 28h1v1h-1zM103 29h2v1h-2zM112 29h2v1h-2zM197 29h1v1h-1zM211 29h2v1h-2zM58 30h2v1h-2zM107 30h1v1h-1zM116 30h1v1h-1zM214 30h1v1h-1zM49 31h1v1h-1zM56 31h4v1h-4zM107 31h2v1h-2zM199 31h15v1h-15zM47 33h2v1h-2zM53 33h2v1h-2zM57 33h3v1h-3zM101 33h1v1h-1zM103 33h3v1h-3zM107 33h7v1h-7zM194 33h1v1h-1zM199 33h4v1h-4zM212 33h2v1h-2zM105 34h1v1h-1zM212 34h3v1h-3zM45 35h4v1h-4zM112 35h1v1h-1zM198 35h2v1h-2zM53 36h3v1h-3zM104 36h2v1h-2zM108 36h1v1h-1zM197 36h1v1h-1zM111 37h1v1h-1zM155 37h2v1h-2zM223 37h1v1h-1zM225 37h5v1h-5zM234 37h1v1h-1zM72 38h3v1h-3zM84 38h3v1h-3zM157 38h5v1h-5zM93 39h1v1h-1zM112 39h2v1h-2zM232 39h1v1h-1zM75 40h3v1h-3zM89 40h1v1h-1zM91 40h1v1h-1zM223 40h1v1h-1zM229 40h5v1h-5zM89 41h1v1h-1zM114 41h1v1h-1zM74 42h4v1h-4zM83 42h2v1h-2zM113 42h1v1h-1zM167 42h2v1h-2zM227 42h1v1h-1zM234 42h3v1h-3zM77 43h3v1h-3zM88 43h1v1h-1zM111 43h5v1h-5zM162 43h4v1h-4zM221 43h2v1h-2zM67 44h10v1h-10zM112 44h1v1h-1zM155 44h1v1h-1zM234 44h1v1h-1zM69 45h6v1h-6zM113 45h4v1h-4zM166 45h2v1h-2zM230 45h3v1h-3zM72 46h6v1h-6zM159 46h1v1h-1zM227 46h1v1h-1zM95 47h3v1h-3zM111 47h1v1h-1zM154 47h10v1h-10zM170 47h2v1h-2zM222 47h1v1h-1zM225 47h6v1h-6zM233 47h1v1h-1zM95 48h1v1h-1zM154 48h1v1h-1zM157 48h3v1h-3zM171 48h1v1h-1zM223 48h2v1h-2zM226 48h12v1h-12zM67 49h4v1h-4zM157 49h2v1h-2zM225 49h2v1h-2zM69 50h3v1h-3zM113 50h1v1h-1zM138 50h1v1h-1zM234 50h2v1h-2zM94 51h1v1h-1zM113 51h4v1h-4zM127 51h1v1h-1zM158 51h2v1h-2zM170 51h1v1h-1zM227 51h7v1h-7zM73 52h1v1h-1zM113 52h1v1h-1zM137 52h2v1h-2zM140 52h1v1h-1zM161 52h5v1h-5zM224 52h1v1h-1zM66 53h2v1h-2zM141 53h1v1h-1zM158 53h11v1h-11zM236 53h4v1h-4zM112 54h1v1h-1zM142 54h1v1h-1zM159 54h1v1h-1zM227 54h3v1h-3zM136 55h1v1h-1zM140 55h1v1h-1zM156 55h1v1h-1zM220 55h1v1h-1zM74 56h2v1h-2zM117 56h2v1h-2zM141 56h2v1h-2zM171 56h1v1h-1zM221 56h1v1h-1zM225 56h3v1h-3zM234 56h1v1h-1zM130 57h1v1h-1zM220 57h2v1h-2zM223 57h2v1h-2zM229 57h3v1h-3zM220 58h10v1h-10zM109 59h1v1h-1zM216 59h4v1h-4zM224 59h6v1h-6zM110 60h1v1h-1zM112 60h2v1h-2zM129 60h1v1h-1zM219 60h1v1h-1zM228 60h3v1h-3zM70 61h1v1h-1zM113 61h3v1h-3zM129 61h1v1h-1zM219 61h8v1h-8zM112 62h1v1h-1zM116 62h1v1h-1zM128 62h1v1h-1zM137 62h4v1h-4zM153 62h1v1h-1zM219 62h1v1h-1zM229 62h3v1h-3zM90 63h2v1h-2zM93 63h3v1h-3zM97 63h1v1h-1zM51 64h2v1h-2zM91 64h1v1h-1zM225 64h2v1h-2zM229 64h5v1h-5zM48 65h3v1h-3zM90 65h1v1h-1zM97 65h1v1h-1zM222 65h2v1h-2zM49 66h1v1h-1zM54 66h1v1h-1zM230 66h4v1h-4zM56 67h2v1h-2zM97 67h1v1h-1zM48 68h7v1h-7zM67 68h1v1h-1zM92 68h1v1h-1zM95 68h1v1h-1zM226 68h1v1h-1zM228 68h10v1h-10zM59 69h1v1h-1zM240 69h1v1h-1zM50 70h2v1h-2zM66 70h1v1h-1zM69 70h1v1h-1zM94 70h1v1h-1zM50 71h1v1h-1zM94 71h3v1h-3zM55 72h4v1h-4zM93 72h1v1h-1zM54 73h5v1h-5zM94 73h1v1h-1zM235 73h2v1h-2zM53 74h3v1h-3zM65 74h1v1h-1zM69 74h1v1h-1zM236 74h3v1h-3zM43 75h9v1h-9zM69 75h1v1h-1zM72 75h1v1h-1zM97 75h1v1h-1zM239 75h1v1h-1zM43 76h7v1h-7zM92 76h1v1h-1zM227 76h1v1h-1zM230 76h1v1h-1zM235 76h3v1h-3zM68 77h1v1h-1zM91 77h6v1h-6zM228 77h1v1h-1zM236 77h4v1h-4zM52 78h1v1h-1zM67 78h1v1h-1zM93 78h2v1h-2zM225 78h11v1h-11zM72 79h1v1h-1zM225 79h2v1h-2zM228 79h2v1h-2zM43 80h14v1h-14zM92 80h1v1h-1zM228 80h3v1h-3zM234 80h3v1h-3zM239 80h2v1h-2zM49 81h2v1h-2zM91 81h2v1h-2zM223 81h1v1h-1zM228 81h7v1h-7zM55 82h2v1h-2zM65 82h1v1h-1zM89 82h3v1h-3zM94 82h1v1h-1zM96 82h2v1h-2zM221 82h3v1h-3zM233 82h5v1h-5zM90 83h2v1h-2zM95 83h1v1h-1zM236 83h1v1h-1zM53 84h2v1h-2zM232 84h8v1h-8zM51 85h5v1h-5zM94 85h1v1h-1zM224 85h1v1h-1zM89 86h5v1h-5zM227 87h7v1h-7zM56 88h2v1h-2zM66 88h1v1h-1zM68 88h1v1h-1zM111 88h1v1h-1zM129 88h2v1h-2zM135 88h3v1h-3zM149 88h1v1h-1zM179 88h1v1h-1zM193 88h9v1h-9zM204 88h2v1h-2zM253 88h1v1h-1zM56 89h3v1h-3zM63 89h3v1h-3zM93 89h2v1h-2zM110 89h1v1h-1zM114 89h6v1h-6zM121 89h5v1h-5zM127 89h4v1h-4zM138 89h4v1h-4zM144 89h1v1h-1zM179 89h3v1h-3zM207 89h5v1h-5zM304 89h5v1h-5zM50 90h1v1h-1zM58 90h1v1h-1zM90 90h3v1h-3zM109 90h2v1h-2zM122 90h1v1h-1zM140 90h2v1h-2zM144 90h3v1h-3zM256 90h5v1h-5zM55 91h3v1h-3zM90 91h2v1h-2zM109 91h1v1h-1zM136 91h1v1h-1zM139 91h4v1h-4zM177 91h5v1h-5zM188 91h2v1h-2zM201 91h1v1h-1zM203 91h2v1h-2zM206 91h6v1h-6zM219 91h1v1h-1zM254 91h2v1h-2zM43 92h4v1h-4zM57 92h1v1h-1zM66 92h1v1h-1zM69 92h4v1h-4zM75 92h10v1h-10zM102 92h1v1h-1zM122 92h1v1h-1zM127 92h2v1h-2zM175 92h1v1h-1zM178 92h3v1h-3zM189 92h1v1h-1zM202 92h1v1h-1zM304 92h1v1h-1zM90 93h1v1h-1zM103 93h2v1h-2zM111 93h1v1h-1zM115 93h1v1h-1zM118 93h2v1h-2zM126 93h1v1h-1zM150 93h1v1h-1zM176 93h1v1h-1zM102 94h2v1h-2zM118 94h1v1h-1zM120 94h1v1h-1zM126 94h2v1h-2zM147 94h2v1h-2zM162 94h1v1h-1zM175 94h1v1h-1zM178 94h2v1h-2zM207 94h7v1h-7zM253 94h2v1h-2zM307 94h3v1h-3zM55 95h1v1h-1zM66 95h1v1h-1zM74 95h2v1h-2zM77 95h1v1h-1zM96 95h1v1h-1zM99 95h2v1h-2zM114 95h2v1h-2zM118 95h1v1h-1zM124 95h2v1h-2zM139 95h3v1h-3zM259 95h5v1h-5zM311 95h3v1h-3zM54 96h2v1h-2zM57 96h2v1h-2zM76 96h4v1h-4zM81 96h1v1h-1zM93 96h3v1h-3zM117 96h3v1h-3zM137 96h1v1h-1zM147 96h1v1h-1zM214 96h3v1h-3zM252 96h6v1h-6zM44 97h1v1h-1zM52 97h3v1h-3zM82 97h1v1h-1zM92 97h1v1h-1zM100 97h1v1h-1zM102 97h3v1h-3zM106 97h8v1h-8zM119 97h1v1h-1zM138 97h2v1h-2zM148 97h2v1h-2zM157 97h4v1h-4zM162 97h1v1h-1zM177 97h5v1h-5zM189 97h2v1h-2zM203 97h1v1h-1zM250 97h3v1h-3zM256 97h7v1h-7zM307 97h1v1h-1zM310 97h2v1h-2zM314 97h1v1h-1zM45 98h3v1h-3zM55 98h1v1h-1zM84 98h4v1h-4zM89 98h3v1h-3zM100 98h2v1h-2zM111 98h1v1h-1zM113 98h1v1h-1zM117 98h1v1h-1zM176 98h1v1h-1zM194 98h2v1h-2zM209 98h3v1h-3zM254 98h1v1h-1zM303 98h2v1h-2zM306 98h5v1h-5zM43 99h1v1h-1zM45 99h1v1h-1zM48 99h2v1h-2zM83 99h3v1h-3zM87 99h1v1h-1zM89 99h3v1h-3zM101 99h1v1h-1zM117 99h1v1h-1zM131 99h1v1h-1zM133 99h4v1h-4zM164 99h1v1h-1zM177 99h1v1h-1zM180 99h1v1h-1zM209 99h4v1h-4zM252 99h1v1h-1zM57 100h2v1h-2zM63 100h2v1h-2zM76 100h2v1h-2zM79 100h3v1h-3zM94 100h1v1h-1zM112 100h1v1h-1zM117 100h4v1h-4zM126 100h3v1h-3zM138 100h1v1h-1zM178 100h1v1h-1zM211 100h10v1h-10zM259 100h1v1h-1zM306 100h1v1h-1zM56 101h1v1h-1zM65 101h1v1h-1zM94 101h2v1h-2zM98 101h3v1h-3zM125 101h1v1h-1zM191 101h1v1h-1zM217 101h1v1h-1zM254 101h1v1h-1zM309 101h1v1h-1zM56 102h1v1h-1zM77 102h5v1h-5zM103 102h7v1h-7zM112 102h1v1h-1zM120 102h1v1h-1zM138 102h1v1h-1zM145 102h2v1h-2zM148 102h6v1h-6zM158 102h2v1h-2zM161 102h1v1h-1zM178 102h3v1h-3zM195 102h3v1h-3zM215 102h3v1h-3zM250 102h2v1h-2zM255 102h2v1h-2zM302 102h2v1h-2zM306 102h2v1h-2zM312 102h1v1h-1zM57 103h2v1h-2zM101 103h1v1h-1zM120 103h2v1h-2zM137 103h1v1h-1zM177 103h1v1h-1zM179 103h1v1h-1zM200 103h1v1h-1zM251 103h11v1h-11zM299 103h3v1h-3zM307 103h5v1h-5zM43 104h1v1h-1zM45 104h1v1h-1zM49 104h1v1h-1zM52 104h2v1h-2zM57 104h2v1h-2zM83 104h1v1h-1zM103 104h2v1h-2zM120 104h8v1h-8zM138 104h1v1h-1zM156 104h3v1h-3zM160 104h1v1h-1zM213 104h2v1h-2zM218 104h1v1h-1zM257 104h1v1h-1zM307 104h1v1h-1zM47 105h1v1h-1zM66 105h1v1h-1zM74 105h3v1h-3zM114 105h3v1h-3zM119 105h3v1h-3zM137 105h1v1h-1zM150 105h5v1h-5zM178 105h5v1h-5zM194 105h1v1h-1zM211 105h7v1h-7zM228 105h1v1h-1zM254 105h6v1h-6zM262 105h1v1h-1zM307 105h10v1h-10zM48 106h1v1h-1zM66 106h2v1h-2zM117 106h3v1h-3zM138 106h1v1h-1zM185 106h2v1h-2zM193 106h1v1h-1zM218 106h1v1h-1zM306 106h2v1h-2zM48 107h1v1h-1zM51 107h5v1h-5zM65 107h1v1h-1zM81 107h1v1h-1zM94 107h5v1h-5zM115 107h1v1h-1zM117 107h1v1h-1zM130 107h2v1h-2zM134 107h1v1h-1zM139 107h4v1h-4zM145 107h3v1h-3zM205 107h1v1h-1zM249 107h2v1h-2zM256 107h1v1h-1zM299 107h6v1h-6zM308 107h2v1h-2zM52 108h1v1h-1zM63 108h1v1h-1zM82 108h1v1h-1zM93 108h2v1h-2zM105 108h2v1h-2zM108 108h6v1h-6zM180 108h2v1h-2zM214 108h2v1h-2zM228 108h4v1h-4zM253 108h2v1h-2zM261 108h4v1h-4zM299 108h2v1h-2zM309 108h3v1h-3zM317 108h1v1h-1zM56 109h4v1h-4zM61 109h1v1h-1zM63 109h2v1h-2zM73 109h9v1h-9zM92 109h1v1h-1zM94 109h1v1h-1zM96 109h4v1h-4zM106 109h1v1h-1zM128 109h1v1h-1zM145 109h2v1h-2zM199 109h2v1h-2zM206 109h1v1h-1zM253 109h7v1h-7zM262 109h2v1h-2zM301 109h1v1h-1zM312 109h2v1h-2zM85 110h1v1h-1zM97 110h5v1h-5zM122 110h4v1h-4zM142 110h1v1h-1zM162 110h1v1h-1zM178 110h1v1h-1zM180 110h3v1h-3zM192 110h1v1h-1zM204 110h1v1h-1zM256 110h3v1h-3zM301 110h5v1h-5zM93 111h2v1h-2zM101 111h1v1h-1zM121 111h1v1h-1zM177 111h2v1h-2zM180 111h2v1h-2zM235 111h1v1h-1zM256 111h8v1h-8zM44 112h1v1h-1zM46 112h1v1h-1zM64 112h2v1h-2zM67 112h1v1h-1zM82 112h2v1h-2zM96 112h7v1h-7zM124 112h1v1h-1zM127 112h2v1h-2zM157 112h4v1h-4zM179 112h1v1h-1zM182 112h1v1h-1zM204 112h1v1h-1zM207 112h2v1h-2zM212 112h3v1h-3zM233 112h1v1h-1zM256 112h6v1h-6zM298 112h1v1h-1zM43 113h2v1h-2zM46 113h2v1h-2zM82 113h1v1h-1zM103 113h4v1h-4zM129 113h1v1h-1zM140 113h2v1h-2zM143 113h2v1h-2zM183 113h1v1h-1zM203 113h1v1h-1zM211 113h3v1h-3zM253 113h1v1h-1zM255 113h7v1h-7zM303 113h2v1h-2zM316 113h1v1h-1zM50 114h1v1h-1zM60 114h2v1h-2zM130 114h1v1h-1zM132 114h2v1h-2zM261 114h3v1h-3zM130 115h2v1h-2zM134 115h3v1h-3zM168 115h2v1h-2zM173 115h1v1h-1zM254 115h1v1h-1zM53 116h7v1h-7zM87 116h1v1h-1zM173 116h1v1h-1zM255 116h1v1h-1zM264 116h4v1h-4zM64 117h1v1h-1zM57 118h2v1h-2zM65 118h1v1h-1zM132 118h1v1h-1zM172 118h1v1h-1zM258 118h1v1h-1zM55 119h9v1h-9zM84 119h2v1h-2zM87 119h1v1h-1zM130 119h1v1h-1zM166 119h1v1h-1zM168 119h3v1h-3zM173 119h1v1h-1zM253 119h1v1h-1zM52 120h4v1h-4zM81 120h1v1h-1zM84 120h2v1h-2zM131 120h1v1h-1zM133 120h2v1h-2zM168 120h4v1h-4zM257 120h1v1h-1zM63 121h2v1h-2zM131 121h6v1h-6zM169 121h6v1h-6zM262 121h2v1h-2zM266 121h2v1h-2zM60 122h1v1h-1zM62 122h1v1h-1zM64 122h1v1h-1zM171 122h3v1h-3zM175 122h1v1h-1zM254 122h1v1h-1zM258 122h9v1h-9zM50 123h2v1h-2zM58 123h1v1h-1zM60 123h4v1h-4zM84 123h1v1h-1zM258 123h1v1h-1zM64 124h1v1h-1zM77 124h1v1h-1zM83 124h2v1h-2zM168 124h1v1h-1zM170 124h1v1h-1zM260 124h1v1h-1zM47 125h1v1h-1zM49 125h5v1h-5zM76 125h2v1h-2zM128 125h1v1h-1zM171 125h3v1h-3zM253 125h3v1h-3zM257 125h7v1h-7zM49 126h4v1h-4zM64 126h3v1h-3zM134 126h1v1h-1zM168 126h1v1h-1zM74 127h1v1h-1zM87 127h1v1h-1zM89 127h3v1h-3zM168 127h1v1h-1zM171 127h2v1h-2zM74 128h1v1h-1zM85 128h1v1h-1zM88 128h4v1h-4zM128 128h1v1h-1zM132 128h2v1h-2zM255 128h1v1h-1zM55 129h6v1h-6zM74 129h1v1h-1zM87 129h2v1h-2zM132 129h1v1h-1zM170 129h4v1h-4zM258 129h3v1h-3zM47 130h1v1h-1zM53 130h2v1h-2zM87 130h1v1h-1zM127 130h1v1h-1zM131 130h1v1h-1zM134 130h1v1h-1zM255 130h3v1h-3zM74 131h1v1h-1zM47 132h2v1h-2zM50 132h6v1h-6zM129 132h1v1h-1zM255 132h3v1h-3zM262 132h5v1h-5zM93 133h3v1h-3zM128 133h1v1h-1zM169 133h1v1h-1zM255 133h1v1h-1zM257 133h11v1h-11zM71 134h5v1h-5zM93 134h1v1h-1zM130 134h2v1h-2zM172 134h1v1h-1zM175 134h1v1h-1zM258 134h4v1h-4zM44 135h2v1h-2zM51 135h1v1h-1zM71 135h3v1h-3zM89 135h2v1h-2zM129 135h1v1h-1zM173 135h3v1h-3zM257 135h2v1h-2zM260 135h3v1h-3zM43 136h1v1h-1zM47 137h4v1h-4zM69 137h3v1h-3zM74 137h1v1h-1zM93 137h1v1h-1zM262 137h6v1h-6zM90 138h1v1h-1zM176 138h1v1h-1zM51 139h2v1h-2zM54 139h2v1h-2zM259 139h1v1h-1z"/>
<path fill="#800000" d="M59 11h16v1h-16zM112 11h29v1h-29zM207 11h42v1h-42zM57 12h2v1h-2zM60 12h15v1h-15zM112 12h27v1h-27zM208 12h38v1h-38zM248 12h1v1h-1zM58 13h11v1h-11zM111 13h27v1h-27zM143 13h1v1h-1zM209 13h37v1h-37zM59 14h15v1h-15zM106 14h35v1h-35zM208 14h2v1h-2zM211 14h36v1h-36zM61 15h11v1h-11zM110 15h32v1h-32zM208 15h39v1h-39zM60 16h2v1h-2zM66 16h2v1h-2zM116 16h24v1h-24zM214 16h27v1h-27zM58 17h2v1h-2zM63 17h1v1h-1zM65 17h5v1h-5zM75 17h2v1h-2zM108 17h32v1h-32zM214 17h35v1h-35zM60 18h17v1h-17zM115 18h22v1h-22zM147 18h1v1h-1zM203 18h11v1h-11zM215 18h31v1h-31zM57 19h2v1h-2zM66 19h3v1h-3zM78 19h2v1h-2zM109 19h4v1h-4zM116 19h18v1h-18zM217 19h25v1h-25zM244 19h4v1h-4zM63 20h11v1h-11zM115 20h22v1h-22zM138 20h5v1h-5zM212 20h32v1h-32zM66 21h10v1h-10zM107 21h1v1h-1zM116 21h27v1h-27zM203 21h2v1h-2zM215 21h31v1h-31zM59 22h12v1h-12zM117 22h17v1h-17zM217 22h21v1h-21zM239 22h5v1h-5zM251 22h1v1h-1zM254 22h2v1h-2zM62 23h12v1h-12zM108 23h1v1h-1zM111 23h33v1h-33zM202 23h42v1h-42zM54 24h1v1h-1zM59 24h1v1h-1zM67 24h2v1h-2zM76 24h4v1h-4zM113 24h3v1h-3zM117 24h17v1h-17zM149 24h1v1h-1zM211 24h29v1h-29zM254 24h1v1h-1zM62 25h12v1h-12zM108 25h31v1h-31zM211 25h34v1h-34zM66 26h3v1h-3zM109 26h36v1h-36zM209 26h4v1h-4zM215 26h32v1h-32zM61 27h11v1h-11zM73 27h2v1h-2zM110 27h33v1h-33zM200 27h46v1h-46zM61 28h14v1h-14zM110 28h36v1h-36zM210 28h39v1h-39zM58 29h13v1h-13zM102 29h1v1h-1zM114 29h16v1h-16zM146 29h1v1h-1zM198 29h1v1h-1zM213 29h27v1h-27zM60 30h10v1h-10zM108 30h7v1h-7zM117 30h23v1h-23zM215 30h30v1h-30zM50 31h6v1h-6zM60 31h16v1h-16zM109 31h28v1h-28zM214 31h31v1h-31zM57 32h16v1h-16zM106 32h24v1h-24zM199 32h46v1h-46zM49 33h3v1h-3zM55 33h2v1h-2zM60 33h13v1h-13zM75 33h2v1h-2zM102 33h1v1h-1zM114 33h16v1h-16zM133 33h12v1h-12zM195 33h4v1h-4zM214 33h32v1h-32zM247 33h2v1h-2zM55 34h15v1h-15zM106 34h33v1h-33zM198 34h8v1h-8zM215 34h26v1h-26zM49 35h25v1h-25zM113 35h25v1h-25zM197 35h1v1h-1zM200 35h2v1h-2zM209 35h36v1h-36zM56 36h16v1h-16zM106 36h2v1h-2zM109 36h29v1h-29zM142 36h3v1h-3zM204 36h42v1h-42zM247 36h2v1h-2zM47 37h14v1h-14zM68 37h16v1h-16zM112 37h1v1h-1zM114 37h13v1h-13zM132 37h1v1h-1zM157 37h12v1h-12zM185 37h1v1h-1zM230 37h4v1h-4zM235 37h67v1h-67zM305 37h3v1h-3zM43 38h13v1h-13zM75 38h9v1h-9zM94 38h1v1h-1zM112 38h1v1h-1zM116 38h15v1h-15zM162 38h4v1h-4zM167 38h9v1h-9zM232 38h64v1h-64zM72 39h14v1h-14zM94 39h1v1h-1zM114 39h15v1h-15zM157 39h15v1h-15zM176 39h5v1h-5zM233 39h73v1h-73zM78 40h6v1h-6zM92 40h3v1h-3zM96 40h2v1h-2zM115 40h11v1h-11zM155 40h14v1h-14zM170 40h4v1h-4zM224 40h2v1h-2zM236 40h60v1h-60zM48 41h7v1h-7zM75 41h14v1h-14zM90 41h4v1h-4zM115 41h16v1h-16zM156 41h23v1h-23zM232 41h65v1h-65zM78 42h5v1h-5zM114 42h17v1h-17zM159 42h8v1h-8zM228 42h1v1h-1zM237 42h65v1h-65zM69 43h6v1h-6zM83 43h5v1h-5zM116 43h10v1h-10zM158 43h4v1h-4zM234 43h59v1h-59zM43 44h5v1h-5zM54 44h1v1h-1zM77 44h11v1h-11zM113 44h15v1h-15zM131 44h1v1h-1zM154 44h1v1h-1zM159 44h17v1h-17zM224 44h4v1h-4zM235 44h62v1h-62zM306 44h1v1h-1zM57 45h3v1h-3zM66 45h3v1h-3zM79 45h2v1h-2zM90 45h1v1h-1zM92 45h3v1h-3zM111 45h1v1h-1zM117 45h9v1h-9zM221 45h1v1h-1zM229 45h1v1h-1zM233 45h61v1h-61zM298 45h7v1h-7zM78 46h3v1h-3zM93 46h3v1h-3zM111 46h1v1h-1zM114 46h11v1h-11zM129 46h1v1h-1zM183 46h2v1h-2zM228 46h69v1h-69zM43 47h9v1h-9zM72 47h11v1h-11zM93 47h2v1h-2zM115 47h12v1h-12zM164 47h5v1h-5zM174 47h5v1h-5zM234 47h72v1h-72zM307 47h3v1h-3zM43 48h10v1h-10zM68 48h14v1h-14zM94 48h1v1h-1zM113 48h18v1h-18zM155 48h1v1h-1zM166 48h2v1h-2zM170 48h1v1h-1zM225 48h1v1h-1zM238 48h57v1h-57zM43 49h7v1h-7zM71 49h17v1h-17zM113 49h14v1h-14zM130 49h2v1h-2zM156 49h1v1h-1zM167 49h2v1h-2zM227 49h74v1h-74zM43 50h9v1h-9zM72 50h12v1h-12zM114 50h16v1h-16zM159 50h9v1h-9zM236 50h60v1h-60zM43 51h6v1h-6zM69 51h18v1h-18zM117 51h10v1h-10zM160 51h8v1h-8zM234 51h67v1h-67zM304 51h4v1h-4zM43 52h5v1h-5zM74 52h8v1h-8zM85 52h6v1h-6zM110 52h1v1h-1zM115 52h15v1h-15zM155 52h6v1h-6zM225 52h75v1h-75zM305 52h4v1h-4zM43 53h4v1h-4zM132 53h9v1h-9zM240 53h54v1h-54zM43 54h4v1h-4zM52 54h1v1h-1zM69 54h1v1h-1zM75 54h10v1h-10zM89 54h7v1h-7zM115 54h9v1h-9zM141 54h1v1h-1zM156 54h1v1h-1zM160 54h6v1h-6zM170 54h1v1h-1zM220 54h1v1h-1zM230 54h73v1h-73zM304 54h3v1h-3zM309 54h2v1h-2zM43 55h8v1h-8zM73 55h2v1h-2zM77 55h4v1h-4zM87 55h1v1h-1zM123 55h10v1h-10zM137 55h3v1h-3zM153 55h2v1h-2zM157 55h13v1h-13zM221 55h82v1h-82zM309 55h3v1h-3zM43 56h9v1h-9zM77 56h5v1h-5zM119 56h13v1h-13zM157 56h14v1h-14zM222 56h3v1h-3zM228 56h6v1h-6zM235 56h68v1h-68zM305 56h2v1h-2zM43 57h4v1h-4zM49 57h3v1h-3zM73 57h11v1h-11zM124 57h6v1h-6zM135 57h3v1h-3zM158 57h10v1h-10zM170 57h2v1h-2zM222 57h1v1h-1zM225 57h4v1h-4zM232 57h79v1h-79zM81 58h4v1h-4zM116 58h7v1h-7zM124 58h3v1h-3zM130 58h1v1h-1zM137 58h5v1h-5zM156 58h12v1h-12zM230 58h73v1h-73zM49 59h1v1h-1zM85 59h3v1h-3zM118 59h3v1h-3zM159 59h8v1h-8zM230 59h76v1h-76zM43 60h8v1h-8zM71 60h1v1h-1zM80 60h6v1h-6zM154 60h2v1h-2zM159 60h11v1h-11zM231 60h68v1h-68zM312 60h2v1h-2zM50 61h3v1h-3zM71 61h1v1h-1zM87 61h1v1h-1zM154 61h16v1h-16zM217 61h2v1h-2zM227 61h73v1h-73zM307 61h6v1h-6zM43 62h5v1h-5zM77 62h6v1h-6zM113 62h1v1h-1zM129 62h1v1h-1zM132 62h5v1h-5zM154 62h2v1h-2zM157 62h12v1h-12zM225 62h4v1h-4zM232 62h70v1h-70zM310 62h3v1h-3zM51 63h10v1h-10zM96 63h1v1h-1zM98 63h14v1h-14zM120 63h1v1h-1zM238 63h48v1h-48zM50 64h1v1h-1zM53 64h9v1h-9zM92 64h1v1h-1zM95 64h21v1h-21zM227 64h2v1h-2zM234 64h54v1h-54zM290 64h6v1h-6zM51 65h11v1h-11zM64 65h3v1h-3zM98 65h13v1h-13zM229 65h59v1h-59zM48 66h1v1h-1zM55 66h6v1h-6zM65 66h2v1h-2zM92 66h14v1h-14zM118 66h2v1h-2zM234 66h50v1h-50zM98 67h8v1h-8zM229 67h56v1h-56zM56 68h4v1h-4zM91 68h1v1h-1zM96 68h14v1h-14zM224 68h2v1h-2zM238 68h47v1h-47zM298 68h1v1h-1zM51 69h8v1h-8zM94 69h9v1h-9zM231 69h7v1h-7zM241 69h41v1h-41zM293 69h2v1h-2zM52 70h9v1h-9zM65 70h1v1h-1zM95 70h19v1h-19zM229 70h68v1h-68zM51 71h13v1h-13zM97 71h11v1h-11zM235 71h57v1h-57zM94 72h21v1h-21zM234 72h54v1h-54zM68 73h1v1h-1zM95 73h13v1h-13zM109 73h1v1h-1zM229 73h6v1h-6zM237 73h51v1h-51zM289 73h5v1h-5zM56 74h9v1h-9zM93 74h16v1h-16zM239 74h46v1h-46zM52 75h6v1h-6zM63 75h4v1h-4zM98 75h4v1h-4zM106 75h10v1h-10zM240 75h42v1h-42zM66 76h3v1h-3zM70 76h1v1h-1zM93 76h25v1h-25zM228 76h2v1h-2zM238 76h50v1h-50zM43 77h12v1h-12zM97 77h12v1h-12zM116 77h3v1h-3zM226 77h2v1h-2zM240 77h57v1h-57zM43 78h9v1h-9zM54 78h8v1h-8zM65 78h2v1h-2zM92 78h1v1h-1zM95 78h18v1h-18zM114 78h4v1h-4zM236 78h60v1h-60zM68 79h3v1h-3zM92 79h15v1h-15zM115 79h4v1h-4zM227 79h1v1h-1zM234 79h55v1h-55zM93 80h20v1h-20zM241 80h44v1h-44zM51 81h14v1h-14zM93 81h19v1h-19zM117 81h2v1h-2zM225 81h3v1h-3zM235 81h58v1h-58zM58 82h7v1h-7zM95 82h1v1h-1zM98 82h5v1h-5zM238 82h46v1h-46zM43 83h24v1h-24zM96 83h21v1h-21zM224 83h1v1h-1zM237 83h55v1h-55zM296 83h1v1h-1zM43 84h9v1h-9zM55 84h7v1h-7zM92 84h15v1h-15zM113 84h1v1h-1zM227 84h5v1h-5zM240 84h47v1h-47zM56 85h5v1h-5zM89 85h1v1h-1zM95 85h15v1h-15zM117 85h1v1h-1zM225 85h65v1h-65zM43 86h23v1h-23zM97 86h11v1h-11zM222 86h12v1h-12zM240 86h55v1h-55zM300 86h1v1h-1zM43 87h24v1h-24zM90 87h1v1h-1zM94 87h20v1h-20zM225 87h2v1h-2zM234 87h61v1h-61zM43 88h3v1h-3zM55 88h1v1h-1zM69 88h9v1h-9zM92 88h2v1h-2zM112 88h1v1h-1zM119 88h10v1h-10zM140 88h5v1h-5zM148 88h1v1h-1zM180 88h10v1h-10zM207 88h5v1h-5zM220 88h4v1h-4zM254 88h19v1h-19zM307 88h16v1h-16zM46 89h10v1h-10zM66 89h3v1h-3zM111 89h3v1h-3zM142 89h2v1h-2zM182 89h6v1h-6zM206 89h1v1h-1zM212 89h1v1h-1zM219 89h7v1h-7zM257 89h15v1h-15zM274 89h1v1h-1zM309 89h14v1h-14zM47 90h3v1h-3zM51 90h6v1h-6zM59 90h2v1h-2zM62 90h3v1h-3zM82 90h2v1h-2zM88 90h2v1h-2zM106 90h3v1h-3zM142 90h2v1h-2zM179 90h14v1h-14zM217 90h2v1h-2zM222 90h2v1h-2zM261 90h9v1h-9zM307 90h16v1h-16zM43 91h6v1h-6zM58 91h5v1h-5zM83 91h1v1h-1zM86 91h4v1h-4zM102 91h3v1h-3zM106 91h3v1h-3zM143 91h5v1h-5zM182 91h6v1h-6zM202 91h1v1h-1zM218 91h1v1h-1zM258 91h16v1h-16zM308 91h15v1h-15zM67 92h2v1h-2zM73 92h2v1h-2zM103 92h3v1h-3zM108 92h2v1h-2zM124 92h3v1h-3zM138 92h11v1h-11zM176 92h2v1h-2zM181 92h8v1h-8zM214 92h10v1h-10zM256 92h16v1h-16zM274 92h1v1h-1zM305 92h18v1h-18zM86 93h4v1h-4zM105 93h6v1h-6zM117 93h1v1h-1zM120 93h3v1h-3zM127 93h1v1h-1zM138 93h8v1h-8zM177 93h15v1h-15zM212 93h2v1h-2zM217 93h3v1h-3zM256 93h19v1h-19zM304 93h4v1h-4zM309 93h14v1h-14zM104 94h2v1h-2zM108 94h9v1h-9zM119 94h1v1h-1zM121 94h5v1h-5zM140 94h5v1h-5zM150 94h1v1h-1zM176 94h2v1h-2zM180 94h8v1h-8zM215 94h5v1h-5zM226 94h3v1h-3zM255 94h18v1h-18zM304 94h3v1h-3zM310 94h13v1h-13zM67 95h3v1h-3zM72 95h2v1h-2zM94 95h1v1h-1zM111 95h3v1h-3zM116 95h2v1h-2zM138 95h1v1h-1zM183 95h10v1h-10zM264 95h5v1h-5zM273 95h1v1h-1zM314 95h9v1h-9zM56 96h1v1h-1zM59 96h17v1h-17zM80 96h1v1h-1zM96 96h9v1h-9zM110 96h1v1h-1zM112 96h5v1h-5zM138 96h1v1h-1zM146 96h1v1h-1zM155 96h4v1h-4zM172 96h1v1h-1zM179 96h2v1h-2zM195 96h7v1h-7zM205 96h3v1h-3zM217 96h3v1h-3zM250 96h2v1h-2zM259 96h13v1h-13zM275 96h2v1h-2zM305 96h4v1h-4zM312 96h11v1h-11zM57 97h1v1h-1zM60 97h1v1h-1zM63 97h1v1h-1zM65 97h2v1h-2zM72 97h1v1h-1zM75 97h3v1h-3zM80 97h2v1h-2zM93 97h7v1h-7zM101 97h1v1h-1zM114 97h3v1h-3zM118 97h1v1h-1zM140 97h1v1h-1zM147 97h1v1h-1zM156 97h1v1h-1zM175 97h2v1h-2zM215 97h2v1h-2zM220 97h9v1h-9zM263 97h13v1h-13zM304 97h3v1h-3zM312 97h2v1h-2zM315 97h8v1h-8zM48 98h6v1h-6zM56 98h5v1h-5zM67 98h1v1h-1zM71 98h1v1h-1zM82 98h2v1h-2zM92 98h8v1h-8zM114 98h3v1h-3zM177 98h7v1h-7zM193 98h1v1h-1zM208 98h1v1h-1zM212 98h17v1h-17zM255 98h21v1h-21zM311 98h12v1h-12zM44 99h1v1h-1zM46 99h2v1h-2zM50 99h6v1h-6zM82 99h1v1h-1zM92 99h4v1h-4zM100 99h1v1h-1zM113 99h4v1h-4zM132 99h1v1h-1zM143 99h8v1h-8zM175 99h2v1h-2zM182 99h1v1h-1zM193 99h9v1h-9zM207 99h2v1h-2zM214 99h15v1h-15zM253 99h3v1h-3zM257 99h16v1h-16zM306 99h17v1h-17zM43 100h7v1h-7zM52 100h5v1h-5zM65 100h2v1h-2zM75 100h1v1h-1zM95 100h2v1h-2zM98 100h3v1h-3zM113 100h4v1h-4zM136 100h2v1h-2zM175 100h3v1h-3zM185 100h4v1h-4zM204 100h1v1h-1zM222 100h8v1h-8zM252 100h7v1h-7zM260 100h12v1h-12zM278 100h1v1h-1zM303 100h3v1h-3zM316 100h7v1h-7zM46 101h1v1h-1zM49 101h7v1h-7zM66 101h2v1h-2zM74 101h2v1h-2zM96 101h1v1h-1zM112 101h7v1h-7zM126 101h3v1h-3zM136 101h2v1h-2zM145 101h14v1h-14zM176 101h15v1h-15zM204 101h2v1h-2zM214 101h2v1h-2zM218 101h9v1h-9zM255 101h3v1h-3zM259 101h15v1h-15zM310 101h13v1h-13zM43 102h13v1h-13zM65 102h1v1h-1zM72 102h2v1h-2zM76 102h1v1h-1zM110 102h2v1h-2zM113 102h1v1h-1zM116 102h1v1h-1zM118 102h2v1h-2zM129 102h2v1h-2zM137 102h1v1h-1zM185 102h10v1h-10zM204 102h2v1h-2zM219 102h11v1h-11zM257 102h16v1h-16zM305 102h1v1h-1zM313 102h10v1h-10zM47 103h5v1h-5zM54 103h3v1h-3zM65 103h2v1h-2zM82 103h3v1h-3zM102 103h1v1h-1zM113 103h1v1h-1zM116 103h4v1h-4zM127 103h5v1h-5zM135 103h1v1h-1zM149 103h1v1h-1zM182 103h3v1h-3zM201 103h3v1h-3zM206 103h2v1h-2zM220 103h5v1h-5zM262 103h12v1h-12zM275 103h2v1h-2zM303 103h4v1h-4zM312 103h11v1h-11zM44 104h1v1h-1zM46 104h3v1h-3zM50 104h2v1h-2zM54 104h3v1h-3zM65 104h4v1h-4zM81 104h2v1h-2zM118 104h2v1h-2zM128 104h7v1h-7zM136 104h2v1h-2zM159 104h1v1h-1zM178 104h14v1h-14zM215 104h3v1h-3zM219 104h7v1h-7zM258 104h18v1h-18zM308 104h15v1h-15zM46 105h1v1h-1zM67 105h1v1h-1zM117 105h2v1h-2zM122 105h6v1h-6zM132 105h1v1h-1zM134 105h3v1h-3zM148 105h2v1h-2zM188 105h6v1h-6zM218 105h10v1h-10zM263 105h8v1h-8zM317 105h6v1h-6zM46 106h2v1h-2zM68 106h8v1h-8zM120 106h6v1h-6zM127 106h2v1h-2zM137 106h1v1h-1zM219 106h8v1h-8zM255 106h17v1h-17zM308 106h15v1h-15zM46 107h2v1h-2zM49 107h2v1h-2zM66 107h3v1h-3zM74 107h2v1h-2zM118 107h1v1h-1zM129 107h1v1h-1zM179 107h12v1h-12zM217 107h14v1h-14zM257 107h16v1h-16zM305 107h3v1h-3zM310 107h13v1h-13zM47 108h5v1h-5zM53 108h3v1h-3zM64 108h4v1h-4zM76 108h6v1h-6zM95 108h1v1h-1zM99 108h6v1h-6zM114 108h1v1h-1zM127 108h2v1h-2zM138 108h1v1h-1zM145 108h2v1h-2zM184 108h10v1h-10zM195 108h5v1h-5zM219 108h7v1h-7zM265 108h5v1h-5zM312 108h5v1h-5zM318 108h5v1h-5zM48 109h8v1h-8zM62 109h1v1h-1zM65 109h3v1h-3zM72 109h1v1h-1zM100 109h6v1h-6zM107 109h6v1h-6zM114 109h3v1h-3zM127 109h1v1h-1zM138 109h1v1h-1zM183 109h11v1h-11zM195 109h4v1h-4zM205 109h1v1h-1zM207 109h22v1h-22zM251 109h2v1h-2zM264 109h11v1h-11zM302 109h3v1h-3zM314 109h9v1h-9zM50 110h7v1h-7zM86 110h2v1h-2zM92 110h3v1h-3zM102 110h2v1h-2zM109 110h1v1h-1zM112 110h3v1h-3zM118 110h4v1h-4zM183 110h9v1h-9zM205 110h1v1h-1zM213 110h19v1h-19zM259 110h12v1h-12zM306 110h17v1h-17zM44 111h1v1h-1zM47 111h4v1h-4zM53 111h7v1h-7zM84 111h1v1h-1zM92 111h1v1h-1zM102 111h1v1h-1zM108 111h1v1h-1zM111 111h1v1h-1zM113 111h2v1h-2zM119 111h2v1h-2zM156 111h2v1h-2zM179 111h1v1h-1zM182 111h14v1h-14zM212 111h20v1h-20zM264 111h8v1h-8zM300 111h23v1h-23zM43 112h1v1h-1zM47 112h6v1h-6zM58 112h6v1h-6zM84 112h2v1h-2zM95 112h1v1h-1zM103 112h1v1h-1zM108 112h5v1h-5zM116 112h2v1h-2zM120 112h4v1h-4zM125 112h2v1h-2zM176 112h3v1h-3zM180 112h2v1h-2zM183 112h10v1h-10zM206 112h1v1h-1zM216 112h17v1h-17zM262 112h13v1h-13zM299 112h24v1h-24zM45 113h1v1h-1zM48 113h1v1h-1zM57 113h1v1h-1zM59 113h4v1h-4zM66 113h5v1h-5zM83 113h3v1h-3zM92 113h7v1h-7zM100 113h2v1h-2zM108 113h7v1h-7zM116 113h1v1h-1zM118 113h6v1h-6zM125 113h4v1h-4zM184 113h8v1h-8zM205 113h1v1h-1zM214 113h17v1h-17zM254 113h1v1h-1zM262 113h11v1h-11zM305 113h11v1h-11zM317 113h6v1h-6zM62 114h1v1h-1zM64 114h2v1h-2zM92 114h15v1h-15zM131 114h1v1h-1zM134 114h10v1h-10zM167 114h23v1h-23zM258 114h3v1h-3zM264 114h28v1h-28zM305 114h1v1h-1zM67 115h6v1h-6zM92 115h9v1h-9zM137 115h5v1h-5zM144 115h1v1h-1zM170 115h3v1h-3zM174 115h15v1h-15zM263 115h27v1h-27zM293 115h1v1h-1zM88 116h1v1h-1zM92 116h9v1h-9zM130 116h15v1h-15zM167 116h5v1h-5zM174 116h15v1h-15zM254 116h1v1h-1zM260 116h4v1h-4zM268 116h27v1h-27zM55 117h5v1h-5zM84 117h21v1h-21zM132 117h13v1h-13zM167 117h2v1h-2zM171 117h21v1h-21zM262 117h35v1h-35zM59 118h3v1h-3zM66 118h3v1h-3zM92 118h13v1h-13zM131 118h1v1h-1zM133 118h10v1h-10zM173 118h18v1h-18zM259 118h38v1h-38zM64 119h2v1h-2zM86 119h1v1h-1zM94 119h8v1h-8zM106 119h1v1h-1zM136 119h12v1h-12zM174 119h16v1h-16zM196 119h1v1h-1zM266 119h25v1h-25zM64 120h2v1h-2zM74 120h1v1h-1zM76 120h1v1h-1zM82 120h1v1h-1zM88 120h16v1h-16zM135 120h11v1h-11zM172 120h18v1h-18zM258 120h44v1h-44zM74 121h1v1h-1zM96 121h4v1h-4zM137 121h8v1h-8zM175 121h11v1h-11zM268 121h24v1h-24zM48 122h1v1h-1zM52 122h3v1h-3zM63 122h1v1h-1zM93 122h7v1h-7zM176 122h3v1h-3zM181 122h10v1h-10zM255 122h3v1h-3zM267 122h31v1h-31zM52 123h6v1h-6zM76 123h1v1h-1zM90 123h16v1h-16zM130 123h1v1h-1zM135 123h11v1h-11zM167 123h1v1h-1zM170 123h1v1h-1zM172 123h17v1h-17zM259 123h45v1h-45zM60 124h3v1h-3zM65 124h5v1h-5zM76 124h1v1h-1zM87 124h15v1h-15zM131 124h1v1h-1zM134 124h10v1h-10zM171 124h18v1h-18zM193 124h2v1h-2zM257 124h3v1h-3zM261 124h38v1h-38zM54 125h5v1h-5zM63 125h10v1h-10zM93 125h7v1h-7zM175 125h5v1h-5zM182 125h1v1h-1zM192 125h3v1h-3zM264 125h30v1h-30zM53 126h6v1h-6zM67 126h5v1h-5zM73 126h3v1h-3zM89 126h17v1h-17zM132 126h2v1h-2zM144 126h2v1h-2zM173 126h17v1h-17zM191 126h1v1h-1zM256 126h43v1h-43zM303 126h2v1h-2zM55 127h19v1h-19zM92 127h12v1h-12zM130 127h1v1h-1zM133 127h10v1h-10zM173 127h16v1h-16zM261 127h41v1h-41zM43 128h9v1h-9zM66 128h8v1h-8zM92 128h14v1h-14zM129 128h1v1h-1zM146 128h3v1h-3zM174 128h8v1h-8zM190 128h3v1h-3zM256 128h39v1h-39zM299 128h6v1h-6zM73 129h1v1h-1zM90 129h7v1h-7zM137 129h8v1h-8zM174 129h9v1h-9zM261 129h41v1h-41zM48 130h1v1h-1zM55 130h19v1h-19zM76 130h2v1h-2zM88 130h1v1h-1zM90 130h11v1h-11zM132 130h2v1h-2zM137 130h7v1h-7zM148 130h2v1h-2zM170 130h3v1h-3zM177 130h3v1h-3zM253 130h1v1h-1zM258 130h35v1h-35zM45 131h2v1h-2zM55 131h1v1h-1zM65 131h7v1h-7zM73 131h1v1h-1zM91 131h3v1h-3zM103 131h2v1h-2zM130 131h1v1h-1zM132 131h16v1h-16zM171 131h1v1h-1zM173 131h12v1h-12zM261 131h35v1h-35zM56 132h12v1h-12zM91 132h1v1h-1zM96 132h9v1h-9zM130 132h5v1h-5zM149 132h1v1h-1zM170 132h20v1h-20zM267 132h36v1h-36zM92 133h1v1h-1zM96 133h5v1h-5zM104 133h1v1h-1zM127 133h1v1h-1zM137 133h8v1h-8zM176 133h19v1h-19zM269 133h26v1h-26zM303 133h4v1h-4zM94 134h5v1h-5zM104 134h1v1h-1zM128 134h2v1h-2zM132 134h13v1h-13zM150 134h1v1h-1zM173 134h1v1h-1zM176 134h14v1h-14zM192 134h2v1h-2zM262 134h37v1h-37zM303 134h1v1h-1zM47 135h4v1h-4zM52 135h19v1h-19zM91 135h13v1h-13zM130 135h16v1h-16zM150 135h1v1h-1zM176 135h17v1h-17zM259 135h1v1h-1zM263 135h37v1h-37zM301 135h4v1h-4zM44 136h12v1h-12zM57 136h1v1h-1zM92 136h8v1h-8zM135 136h9v1h-9zM173 136h15v1h-15zM261 136h33v1h-33zM297 136h4v1h-4zM51 137h3v1h-3zM55 137h3v1h-3zM62 137h7v1h-7zM72 137h2v1h-2zM94 137h6v1h-6zM129 137h18v1h-18zM173 137h20v1h-20zM268 137h32v1h-32zM301 137h3v1h-3zM50 138h6v1h-6zM58 138h5v1h-5zM91 138h11v1h-11zM134 138h14v1h-14zM177 138h16v1h-16zM264 138h31v1h-31zM299 138h4v1h-4zM56 139h9v1h-9zM103 139h2v1h-2zM133 139h17v1h-17zM170 139h1v1h-1zM175 139h17v1h-17zM257 139h2v1h-2zM260 139h6v1h-6zM270 139h29v1h-29zM306 139h1v1h-1z"/>
<path fill="#400047" d="M75 11h1v1h-1zM78 11h1v1h-1zM141 11h4v1h-4zM249 11h3v1h-3zM139 12h4v1h-4zM246 12h2v1h-2zM249 12h1v1h-1zM69 13h2v1h-2zM138 13h5v1h-5zM144 13h1v1h-1zM246 13h3v1h-3zM75 14h2v1h-2zM247 14h2v1h-2zM251 14h3v1h-3zM72 15h2v1h-2zM142 15h2v1h-2zM247 15h2v1h-2zM69 16h10v1h-10zM80 16h1v1h-1zM146 16h3v1h-3zM241 16h1v1h-1zM250 16h3v1h-3zM254 16h2v1h-2zM70 17h4v1h-4zM140 17h5v1h-5zM249 17h3v1h-3zM78 18h2v1h-2zM137 18h1v1h-1zM148 18h1v1h-1zM246 18h6v1h-6zM253 18h2v1h-2zM69 19h3v1h-3zM134 19h1v1h-1zM149 19h1v1h-1zM242 19h2v1h-2zM254 19h3v1h-3zM74 20h1v1h-1zM244 20h5v1h-5zM246 21h5v1h-5zM71 22h10v1h-10zM134 22h3v1h-3zM147 22h2v1h-2zM238 22h1v1h-1zM244 22h7v1h-7zM253 22h1v1h-1zM74 23h4v1h-4zM144 23h2v1h-2zM244 23h4v1h-4zM69 24h1v1h-1zM73 24h1v1h-1zM134 24h8v1h-8zM240 24h1v1h-1zM255 24h1v1h-1zM74 25h3v1h-3zM139 25h1v1h-1zM245 25h1v1h-1zM69 26h2v1h-2zM72 26h3v1h-3zM247 26h1v1h-1zM72 27h1v1h-1zM75 27h1v1h-1zM143 27h3v1h-3zM246 27h4v1h-4zM47 28h1v1h-1zM52 28h4v1h-4zM249 28h2v1h-2zM71 29h5v1h-5zM78 29h1v1h-1zM130 29h1v1h-1zM142 29h4v1h-4zM147 29h1v1h-1zM240 29h11v1h-11zM252 29h1v1h-1zM70 30h2v1h-2zM251 30h5v1h-5zM46 31h2v1h-2zM137 31h6v1h-6zM245 31h1v1h-1zM73 32h2v1h-2zM130 32h2v1h-2zM133 32h10v1h-10zM245 32h3v1h-3zM52 33h1v1h-1zM73 33h2v1h-2zM77 33h1v1h-1zM130 33h3v1h-3zM145 33h1v1h-1zM147 33h2v1h-2zM246 33h1v1h-1zM70 34h1v1h-1zM73 34h2v1h-2zM139 34h3v1h-3zM241 34h1v1h-1zM245 35h3v1h-3zM138 36h4v1h-4zM43 37h4v1h-4zM96 37h1v1h-1zM169 37h1v1h-1zM184 37h1v1h-1zM302 37h3v1h-3zM308 37h1v1h-1zM310 37h2v1h-2zM87 38h2v1h-2zM95 38h2v1h-2zM114 38h2v1h-2zM166 38h1v1h-1zM176 38h3v1h-3zM182 38h1v1h-1zM185 38h2v1h-2zM310 38h3v1h-3zM95 39h1v1h-1zM129 39h2v1h-2zM172 39h1v1h-1zM307 39h2v1h-2zM84 40h2v1h-2zM114 40h1v1h-1zM126 40h7v1h-7zM169 40h1v1h-1zM174 40h9v1h-9zM184 40h1v1h-1zM310 40h3v1h-3zM94 41h2v1h-2zM98 41h1v1h-1zM179 41h1v1h-1zM297 41h9v1h-9zM43 42h4v1h-4zM85 42h4v1h-4zM169 42h2v1h-2zM302 42h3v1h-3zM54 43h4v1h-4zM64 43h1v1h-1zM80 43h3v1h-3zM293 43h7v1h-7zM48 44h6v1h-6zM55 44h1v1h-1zM88 44h1v1h-1zM96 44h1v1h-1zM128 44h1v1h-1zM130 44h1v1h-1zM132 44h1v1h-1zM182 44h2v1h-2zM297 44h9v1h-9zM307 44h3v1h-3zM43 45h5v1h-5zM60 45h2v1h-2zM91 45h1v1h-1zM112 45h1v1h-1zM126 45h8v1h-8zM173 45h12v1h-12zM294 45h1v1h-1zM305 45h1v1h-1zM55 46h3v1h-3zM64 46h4v1h-4zM81 46h9v1h-9zM125 46h1v1h-1zM174 46h2v1h-2zM185 46h2v1h-2zM83 47h10v1h-10zM112 47h3v1h-3zM127 47h1v1h-1zM131 47h2v1h-2zM306 47h1v1h-1zM53 48h2v1h-2zM66 48h1v1h-1zM82 48h2v1h-2zM87 48h7v1h-7zM131 48h1v1h-1zM172 48h2v1h-2zM295 48h1v1h-1zM305 48h6v1h-6zM50 49h1v1h-1zM88 49h4v1h-4zM301 49h8v1h-8zM52 50h1v1h-1zM84 50h16v1h-16zM296 50h8v1h-8zM87 51h1v1h-1zM99 51h1v1h-1zM301 51h3v1h-3zM308 51h1v1h-1zM48 52h5v1h-5zM82 52h2v1h-2zM91 52h3v1h-3zM130 52h1v1h-1zM139 52h1v1h-1zM300 52h5v1h-5zM47 53h4v1h-4zM55 53h1v1h-1zM77 53h8v1h-8zM113 53h10v1h-10zM144 53h1v1h-1zM294 53h1v1h-1zM307 53h6v1h-6zM315 53h2v1h-2zM47 54h5v1h-5zM53 54h1v1h-1zM85 54h1v1h-1zM88 54h1v1h-1zM96 54h1v1h-1zM113 54h2v1h-2zM131 54h6v1h-6zM152 54h1v1h-1zM166 54h3v1h-3zM171 54h1v1h-1zM303 54h1v1h-1zM307 54h2v1h-2zM311 54h1v1h-1zM51 55h1v1h-1zM72 55h1v1h-1zM88 55h1v1h-1zM118 55h5v1h-5zM52 56h1v1h-1zM73 56h1v1h-1zM76 56h1v1h-1zM82 56h6v1h-6zM152 56h2v1h-2zM156 56h1v1h-1zM303 56h2v1h-2zM307 56h3v1h-3zM47 57h1v1h-1zM120 57h1v1h-1zM122 57h2v1h-2zM138 57h5v1h-5zM43 58h7v1h-7zM77 58h4v1h-4zM123 58h1v1h-1zM131 58h6v1h-6zM168 58h2v1h-2zM303 58h9v1h-9zM43 59h6v1h-6zM55 59h1v1h-1zM84 59h1v1h-1zM88 59h1v1h-1zM110 59h1v1h-1zM116 59h2v1h-2zM121 59h9v1h-9zM134 59h11v1h-11zM157 59h2v1h-2zM167 59h7v1h-7zM306 59h4v1h-4zM315 59h1v1h-1zM86 60h1v1h-1zM114 60h2v1h-2zM128 60h1v1h-1zM130 60h3v1h-3zM158 60h1v1h-1zM170 60h3v1h-3zM299 60h9v1h-9zM311 60h1v1h-1zM314 60h1v1h-1zM48 61h2v1h-2zM53 61h1v1h-1zM86 61h1v1h-1zM136 61h1v1h-1zM170 61h1v1h-1zM300 61h2v1h-2zM48 62h1v1h-1zM83 62h1v1h-1zM114 62h1v1h-1zM130 62h2v1h-2zM142 62h1v1h-1zM156 62h1v1h-1zM169 62h1v1h-1zM302 62h1v1h-1zM309 62h1v1h-1zM61 63h2v1h-2zM112 63h8v1h-8zM286 63h5v1h-5zM300 63h1v1h-1zM62 64h2v1h-2zM288 64h2v1h-2zM296 64h2v1h-2zM62 65h2v1h-2zM111 65h4v1h-4zM119 65h2v1h-2zM292 65h2v1h-2zM299 65h2v1h-2zM106 66h1v1h-1zM284 66h9v1h-9zM300 66h1v1h-1zM58 67h1v1h-1zM106 67h9v1h-9zM55 68h1v1h-1zM66 68h1v1h-1zM110 68h9v1h-9zM285 68h2v1h-2zM297 68h1v1h-1zM60 69h3v1h-3zM103 69h3v1h-3zM282 69h4v1h-4zM61 70h4v1h-4zM68 70h1v1h-1zM114 70h4v1h-4zM108 71h2v1h-2zM115 72h2v1h-2zM288 72h3v1h-3zM293 72h4v1h-4zM59 73h5v1h-5zM69 73h1v1h-1zM108 73h1v1h-1zM110 73h8v1h-8zM288 73h1v1h-1zM66 74h2v1h-2zM285 74h11v1h-11zM68 75h1v1h-1zM102 75h4v1h-4zM282 75h11v1h-11zM63 76h2v1h-2zM69 76h1v1h-1zM118 76h1v1h-1zM288 76h5v1h-5zM296 76h3v1h-3zM109 77h7v1h-7zM297 77h2v1h-2zM53 78h1v1h-1zM62 78h3v1h-3zM113 78h1v1h-1zM118 78h1v1h-1zM296 78h2v1h-2zM56 79h5v1h-5zM107 79h3v1h-3zM289 79h6v1h-6zM298 79h2v1h-2zM66 80h2v1h-2zM113 80h1v1h-1zM285 80h1v1h-1zM290 80h4v1h-4zM65 81h2v1h-2zM57 82h1v1h-1zM103 82h9v1h-9zM119 82h2v1h-2zM284 82h2v1h-2zM290 82h3v1h-3zM117 83h1v1h-1zM295 83h1v1h-1zM62 84h1v1h-1zM68 84h1v1h-1zM107 84h6v1h-6zM287 84h2v1h-2zM61 85h8v1h-8zM110 85h1v1h-1zM116 85h1v1h-1zM118 85h1v1h-1zM297 85h3v1h-3zM66 86h3v1h-3zM108 86h10v1h-10zM119 86h1v1h-1zM67 87h1v1h-1zM114 87h2v1h-2zM295 87h1v1h-1zM46 88h6v1h-6zM78 88h2v1h-2zM91 88h1v1h-1zM138 88h2v1h-2zM145 88h1v1h-1zM147 88h1v1h-1zM192 88h1v1h-1zM212 88h1v1h-1zM217 88h2v1h-2zM273 88h2v1h-2zM69 89h12v1h-12zM88 89h1v1h-1zM90 89h3v1h-3zM149 89h1v1h-1zM188 89h5v1h-5zM213 89h1v1h-1zM226 89h1v1h-1zM272 89h2v1h-2zM275 89h1v1h-1zM43 90h4v1h-4zM61 90h1v1h-1zM65 90h1v1h-1zM84 90h2v1h-2zM87 90h1v1h-1zM93 90h1v1h-1zM135 90h1v1h-1zM147 90h1v1h-1zM219 90h3v1h-3zM224 90h1v1h-1zM270 90h4v1h-4zM63 91h2v1h-2zM72 91h4v1h-4zM85 91h1v1h-1zM105 91h1v1h-1zM190 91h1v1h-1zM217 91h1v1h-1zM220 91h4v1h-4zM274 91h1v1h-1zM106 92h2v1h-2zM136 92h2v1h-2zM190 92h2v1h-2zM201 92h1v1h-1zM204 92h1v1h-1zM224 92h4v1h-4zM275 92h1v1h-1zM123 93h3v1h-3zM147 93h2v1h-2zM216 93h1v1h-1zM220 93h7v1h-7zM106 94h2v1h-2zM138 94h2v1h-2zM145 94h1v1h-1zM149 94h1v1h-1zM161 94h1v1h-1zM214 94h1v1h-1zM221 94h2v1h-2zM273 94h2v1h-2zM70 95h2v1h-2zM95 95h1v1h-1zM97 95h2v1h-2zM101 95h1v1h-1zM110 95h1v1h-1zM203 95h1v1h-1zM269 95h4v1h-4zM105 96h1v1h-1zM109 96h1v1h-1zM111 96h1v1h-1zM139 96h2v1h-2zM202 96h2v1h-2zM231 96h1v1h-1zM272 96h1v1h-1zM58 97h2v1h-2zM61 97h2v1h-2zM64 97h1v1h-1zM68 97h1v1h-1zM70 97h2v1h-2zM73 97h2v1h-2zM78 97h2v1h-2zM151 97h5v1h-5zM182 97h7v1h-7zM191 97h4v1h-4zM229 97h1v1h-1zM276 97h1v1h-1zM66 98h1v1h-1zM69 98h1v1h-1zM73 98h1v1h-1zM142 98h6v1h-6zM154 98h9v1h-9zM184 98h1v1h-1zM229 98h1v1h-1zM276 98h1v1h-1zM56 99h4v1h-4zM64 99h3v1h-3zM77 99h1v1h-1zM79 99h3v1h-3zM96 99h4v1h-4zM155 99h5v1h-5zM162 99h1v1h-1zM181 99h1v1h-1zM183 99h3v1h-3zM275 99h3v1h-3zM51 100h1v1h-1zM67 100h2v1h-2zM97 100h1v1h-1zM130 100h6v1h-6zM144 100h6v1h-6zM163 100h1v1h-1zM205 100h1v1h-1zM209 100h2v1h-2zM221 100h1v1h-1zM43 101h3v1h-3zM47 101h1v1h-1zM97 101h1v1h-1zM129 101h1v1h-1zM227 101h1v1h-1zM274 101h2v1h-2zM66 102h2v1h-2zM71 102h1v1h-1zM114 102h2v1h-2zM117 102h1v1h-1zM136 102h1v1h-1zM164 102h1v1h-1zM181 102h4v1h-4zM218 102h1v1h-1zM230 102h1v1h-1zM273 102h1v1h-1zM277 102h1v1h-1zM52 103h2v1h-2zM67 103h1v1h-1zM81 103h1v1h-1zM103 103h8v1h-8zM114 103h2v1h-2zM134 103h1v1h-1zM146 103h3v1h-3zM158 103h4v1h-4zM165 103h1v1h-1zM174 103h1v1h-1zM176 103h1v1h-1zM180 103h2v1h-2zM185 103h4v1h-4zM225 103h1v1h-1zM233 103h1v1h-1zM250 103h1v1h-1zM274 103h1v1h-1zM277 103h1v1h-1zM302 103h1v1h-1zM69 104h1v1h-1zM75 104h6v1h-6zM105 104h7v1h-7zM135 104h1v1h-1zM192 104h5v1h-5zM201 104h1v1h-1zM226 104h2v1h-2zM43 105h3v1h-3zM68 105h6v1h-6zM108 105h2v1h-2zM128 105h1v1h-1zM133 105h1v1h-1zM183 105h5v1h-5zM229 105h2v1h-2zM253 105h1v1h-1zM271 105h5v1h-5zM45 106h1v1h-1zM126 106h1v1h-1zM134 106h3v1h-3zM177 106h8v1h-8zM187 106h3v1h-3zM227 106h2v1h-2zM254 106h1v1h-1zM272 106h1v1h-1zM301 106h5v1h-5zM43 107h3v1h-3zM72 107h2v1h-2zM128 107h1v1h-1zM132 107h2v1h-2zM143 107h2v1h-2zM161 107h1v1h-1zM191 107h3v1h-3zM195 107h1v1h-1zM216 107h1v1h-1zM231 107h1v1h-1zM234 107h2v1h-2zM274 107h3v1h-3zM96 108h3v1h-3zM115 108h7v1h-7zM126 108h1v1h-1zM139 108h1v1h-1zM177 108h3v1h-3zM182 108h2v1h-2zM205 108h1v1h-1zM213 108h1v1h-1zM226 108h2v1h-2zM232 108h3v1h-3zM251 108h2v1h-2zM270 108h4v1h-4zM277 108h1v1h-1zM43 109h3v1h-3zM47 109h1v1h-1zM68 109h4v1h-4zM113 109h1v1h-1zM117 109h3v1h-3zM122 109h5v1h-5zM139 109h2v1h-2zM194 109h1v1h-1zM204 109h1v1h-1zM229 109h1v1h-1zM233 109h2v1h-2zM43 110h2v1h-2zM88 110h4v1h-4zM104 110h5v1h-5zM110 110h2v1h-2zM115 110h3v1h-3zM175 110h3v1h-3zM179 110h1v1h-1zM232 110h3v1h-3zM250 110h6v1h-6zM271 110h1v1h-1zM43 111h1v1h-1zM45 111h2v1h-2zM85 111h5v1h-5zM91 111h1v1h-1zM103 111h2v1h-2zM109 111h2v1h-2zM112 111h1v1h-1zM118 111h1v1h-1zM159 111h1v1h-1zM175 111h2v1h-2zM232 111h3v1h-3zM272 111h1v1h-1zM55 112h3v1h-3zM86 112h1v1h-1zM93 112h2v1h-2zM104 112h3v1h-3zM113 112h1v1h-1zM118 112h2v1h-2zM197 112h4v1h-4zM211 112h1v1h-1zM215 112h1v1h-1zM49 113h2v1h-2zM56 113h1v1h-1zM58 113h1v1h-1zM64 113h2v1h-2zM86 113h1v1h-1zM102 113h1v1h-1zM115 113h1v1h-1zM117 113h1v1h-1zM124 113h1v1h-1zM196 113h1v1h-1zM201 113h2v1h-2zM204 113h1v1h-1zM273 113h1v1h-1zM63 114h1v1h-1zM68 114h6v1h-6zM147 114h2v1h-2zM190 114h1v1h-1zM194 114h2v1h-2zM292 114h1v1h-1zM298 114h7v1h-7zM306 114h2v1h-2zM45 115h1v1h-1zM66 115h1v1h-1zM91 115h1v1h-1zM101 115h6v1h-6zM142 115h2v1h-2zM290 115h2v1h-2zM305 115h3v1h-3zM309 115h1v1h-1zM52 116h1v1h-1zM60 116h1v1h-1zM66 116h2v1h-2zM89 116h3v1h-3zM101 116h3v1h-3zM106 116h2v1h-2zM189 116h2v1h-2zM196 116h1v1h-1zM295 116h1v1h-1zM308 116h2v1h-2zM145 117h1v1h-1zM192 117h1v1h-1zM194 117h2v1h-2zM297 117h9v1h-9zM73 118h3v1h-3zM81 118h5v1h-5zM90 118h2v1h-2zM143 118h1v1h-1zM191 118h1v1h-1zM297 118h3v1h-3zM66 119h3v1h-3zM82 119h2v1h-2zM102 119h1v1h-1zM105 119h1v1h-1zM107 119h1v1h-1zM135 119h1v1h-1zM195 119h1v1h-1zM291 119h1v1h-1zM306 119h1v1h-1zM308 119h1v1h-1zM49 120h1v1h-1zM83 120h1v1h-1zM104 120h1v1h-1zM146 120h1v1h-1zM190 120h4v1h-4zM88 121h4v1h-4zM94 121h2v1h-2zM186 121h8v1h-8zM292 121h8v1h-8zM49 122h1v1h-1zM51 122h1v1h-1zM68 122h5v1h-5zM76 122h1v1h-1zM100 122h5v1h-5zM141 122h3v1h-3zM148 122h1v1h-1zM174 122h1v1h-1zM179 122h2v1h-2zM191 122h1v1h-1zM195 122h2v1h-2zM298 122h4v1h-4zM308 122h2v1h-2zM67 123h2v1h-2zM87 123h1v1h-1zM146 123h1v1h-1zM189 123h1v1h-1zM102 124h4v1h-4zM144 124h2v1h-2zM189 124h4v1h-4zM299 124h4v1h-4zM306 124h1v1h-1zM59 125h4v1h-4zM84 125h1v1h-1zM100 125h1v1h-1zM102 125h2v1h-2zM129 125h2v1h-2zM146 125h2v1h-2zM168 125h1v1h-1zM174 125h1v1h-1zM180 125h2v1h-2zM183 125h3v1h-3zM302 125h7v1h-7zM135 126h4v1h-4zM143 126h1v1h-1zM146 126h1v1h-1zM190 126h1v1h-1zM192 126h1v1h-1zM299 126h4v1h-4zM131 127h2v1h-2zM143 127h2v1h-2zM134 128h3v1h-3zM145 128h1v1h-1zM172 128h2v1h-2zM295 128h4v1h-4zM305 128h2v1h-2zM61 129h12v1h-12zM97 129h8v1h-8zM133 129h4v1h-4zM183 129h4v1h-4zM302 129h1v1h-1zM52 130h1v1h-1zM105 130h3v1h-3zM135 130h2v1h-2zM180 130h1v1h-1zM196 130h1v1h-1zM293 130h2v1h-2zM303 130h6v1h-6zM47 131h1v1h-1zM56 131h9v1h-9zM102 131h1v1h-1zM185 131h1v1h-1zM190 131h2v1h-2zM78 132h1v1h-1zM105 132h1v1h-1zM150 132h1v1h-1zM194 132h2v1h-2zM303 132h1v1h-1zM306 132h2v1h-2zM101 133h3v1h-3zM105 133h1v1h-1zM107 133h1v1h-1zM170 133h1v1h-1zM195 133h1v1h-1zM295 133h1v1h-1zM307 133h1v1h-1zM59 134h1v1h-1zM91 134h2v1h-2zM102 134h2v1h-2zM105 134h1v1h-1zM145 134h1v1h-1zM149 134h1v1h-1zM190 134h2v1h-2zM299 134h4v1h-4zM304 134h1v1h-1zM74 135h1v1h-1zM104 135h1v1h-1zM146 135h1v1h-1zM149 135h1v1h-1zM193 135h1v1h-1zM300 135h1v1h-1zM305 135h1v1h-1zM56 136h1v1h-1zM144 136h5v1h-5zM191 136h2v1h-2zM302 136h1v1h-1zM54 137h1v1h-1zM58 137h4v1h-4zM147 137h2v1h-2zM300 137h1v1h-1zM304 137h1v1h-1zM102 138h1v1h-1zM148 138h2v1h-2zM295 138h1v1h-1zM65 139h6v1h-6zM102 139h1v1h-1zM105 139h1v1h-1zM150 139h1v1h-1zM192 139h4v1h-4zM305 139h1v1h-1z"/>
</g></g>
<rect x="43.3" y="10.5" width="279.5" height="129" fill="none" stroke="#262626" stroke-width="0.6"/>
<line x1="78.1" y1="139.5" x2="78.1" y2="136.7" stroke="#262626" stroke-width="0.6"/>
<line x1="78.1" y1="10.5" x2="78.1" y2="13.3" stroke="#262626" stroke-width="0.6"/>
<line x1="113" y1="139.5" x2="113" y2="136.7" stroke="#262626" stroke-width="0.6"/>
<line x1="113" y1="10.5" x2="113" y2="13.3" stroke="#262626" stroke-width="0.6"/>
<line x1="147.9" y1="139.5" x2="147.9" y2="136.7" stroke="#262626" stroke-width="0.6"/>
<line x1="147.9" y1="10.5" x2="147.9" y2="13.3" stroke="#262626" stroke-width="0.6"/>
<line x1="182.9" y1="139.5" x2="182.9" y2="136.7" stroke="#262626" stroke-width="0.6"/>
<line x1="182.9" y1="10.5" x2="182.9" y2="13.3" stroke="#262626" stroke-width="0.6"/>
<line x1="217.8" y1="139.5" x2="217.8" y2="136.7" stroke="#262626" stroke-width="0.6"/>
<line x1="217.8" y1="10.5" x2="217.8" y2="13.3" stroke="#262626" stroke-width="0.6"/>
<line x1="252.8" y1="139.5" x2="252.8" y2="136.7" stroke="#262626" stroke-width="0.6"/>
<line x1="252.8" y1="10.5" x2="252.8" y2="13.3" stroke="#262626" stroke-width="0.6"/>
<line x1="287.7" y1="139.5" x2="287.7" y2="136.7" stroke="#262626" stroke-width="0.6"/>
<line x1="287.7" y1="10.5" x2="287.7" y2="13.3" stroke="#262626" stroke-width="0.6"/>
<line x1="322.6" y1="139.5" x2="322.6" y2="136.7" stroke="#262626" stroke-width="0.6"/>
<line x1="322.6" y1="10.5" x2="322.6" y2="13.3" stroke="#262626" stroke-width="0.6"/>
<line x1="43.3" y1="36.3" x2="46.1" y2="36.3" stroke="#262626" stroke-width="0.6"/>
<line x1="322.8" y1="36.3" x2="320" y2="36.3" stroke="#262626" stroke-width="0.6"/>
<line x1="43.3" y1="62.1" x2="46.1" y2="62.1" stroke="#262626" stroke-width="0.6"/>
<line x1="322.8" y1="62.1" x2="320" y2="62.1" stroke="#262626" stroke-width="0.6"/>
<line x1="43.3" y1="87.9" x2="46.1" y2="87.9" stroke="#262626" stroke-width="0.6"/>
<line x1="322.8" y1="87.9" x2="320" y2="87.9" stroke="#262626" stroke-width="0.6"/>
<line x1="43.3" y1="113.7" x2="46.1" y2="113.7" stroke="#262626" stroke-width="0.6"/>
<line x1="322.8" y1="113.7" x2="320" y2="113.7" stroke="#262626" stroke-width="0.6"/>
<line x1="43.3" y1="139.5" x2="46.1" y2="139.5" stroke="#262626" stroke-width="0.6"/>
<line x1="322.8" y1="139.5" x2="320" y2="139.5" stroke="#262626" stroke-width="0.6"/>
<text x="78.1" y="154.5" text-anchor="middle" font-size="10.8">100</text>
<text x="113" y="154.5" text-anchor="middle" font-size="10.8">200</text>
<text x="147.9" y="154.5" text-anchor="middle" font-size="10.8">300</text>
<text x="182.9" y="154.5" text-anchor="middle" font-size="10.8">400</text>
<text x="217.8" y="154.5" text-anchor="middle" font-size="10.8">500</text>
<text x="252.8" y="154.5" text-anchor="middle" font-size="10.8">600</text>
<text x="287.7" y="154.5" text-anchor="middle" font-size="10.8">700</text>
<text x="322.6" y="154.5" text-anchor="middle" font-size="10.8">800</text>
<text x="39.5" y="40.8" text-anchor="end" font-size="10.8">1000</text>
<text x="39.5" y="66.6" text-anchor="end" font-size="10.8">2000</text>
<text x="39.5" y="92.4" text-anchor="end" font-size="10.8">3000</text>
<text x="39.5" y="118.2" text-anchor="end" font-size="10.8">4000</text>
<text x="39.5" y="144" text-anchor="end" font-size="10.8">5000</text>
<text x="183" y="169.5" text-anchor="middle" font-size="11.9">t</text>
<text x="11" y="75.2" text-anchor="middle" font-size="11.9" transform="rotate(-90 11 75.2)">agent</text>
<rect x="396" y="10.6" width="279" height="128.8" fill="none" stroke="#262626" stroke-width="0.6"/>
<line x1="396" y1="139.4" x2="396" y2="136.6" stroke="#262626" stroke-width="0.6"/>
<line x1="396" y1="10.6" x2="396" y2="13.4" stroke="#262626" stroke-width="0.6"/>
<line x1="465.8" y1="139.4" x2="465.8" y2="136.6" stroke="#262626" stroke-width="0.6"/>
<line x1="465.8" y1="10.6" x2="465.8" y2="13.4" stroke="#262626" stroke-width="0.6"/>
<line x1="535.5" y1="139.4" x2="535.5" y2="136.6" stroke="#262626" stroke-width="0.6"/>
<line x1="535.5" y1="10.6" x2="535.5" y2="13.4" stroke="#262626" stroke-width="0.6"/>
<line x1="605.2" y1="139.4" x2="605.2" y2="136.6" stroke="#262626" stroke-width="0.6"/>
<line x1="605.2" y1="10.6" x2="605.2" y2="13.4" stroke="#262626" stroke-width="0.6"/>
<line x1="675" y1="139.4" x2="675" y2="136.6" stroke="#262626" stroke-width="0.6"/>
<line x1="675" y1="10.6" x2="675" y2="13.4" stroke="#262626" stroke-width="0.6"/>
<line x1="396" y1="139.9" x2="398.8" y2="139.9" stroke="#262626" stroke-width="0.6"/>
<line x1="675" y1="139.9" x2="672.2" y2="139.9" stroke="#262626" stroke-width="0.6"/>
<line x1="396" y1="114.2" x2="398.8" y2="114.2" stroke="#262626" stroke-width="0.6"/>
<line x1="675" y1="114.2" x2="672.2" y2="114.2" stroke="#262626" stroke-width="0.6"/>
<line x1="396" y1="88.4" x2="398.8" y2="88.4" stroke="#262626" stroke-width="0.6"/>
<line x1="675" y1="88.4" x2="672.2" y2="88.4" stroke="#262626" stroke-width="0.6"/>
<line x1="396" y1="62.7" x2="398.8" y2="62.7" stroke="#262626" stroke-width="0.6"/>
<line x1="675" y1="62.7" x2="672.2" y2="62.7" stroke="#262626" stroke-width="0.6"/>
<line x1="396" y1="37" x2="398.8" y2="37" stroke="#262626" stroke-width="0.6"/>
<line x1="675" y1="37" x2="672.2" y2="37" stroke="#262626" stroke-width="0.6"/>
<line x1="396" y1="11.2" x2="398.8" y2="11.2" stroke="#262626" stroke-width="0.6"/>
<line x1="675" y1="11.2" x2="672.2" y2="11.2" stroke="#262626" stroke-width="0.6"/>
<text x="396" y="154.5" text-anchor="middle" font-size="10.8">0</text>
<text x="465.8" y="154.5" text-anchor="middle" font-size="10.8">200</text>
<text x="535.5" y="154.5" text-anchor="middle" font-size="10.8">400</text>
<text x="605.2" y="154.5" text-anchor="middle" font-size="10.8">600</text>
<text x="675" y="154.5" text-anchor="middle" font-size="10.8">800</text>
<text x="392.3" y="143.9" text-anchor="end" font-size="10.8">0</text>
<text x="392.3" y="118.2" text-anchor="end" font-size="10.8">0.2</text>
<text x="392.3" y="92.4" text-anchor="end" font-size="10.8">0.4</text>
<text x="392.3" y="66.7" text-anchor="end" font-size="10.8">0.6</text>
<text x="392.3" y="41" text-anchor="end" font-size="10.8">0.8</text>
<text x="392.3" y="15.2" text-anchor="end" font-size="10.8">1</text>
<text x="535.5" y="169.5" text-anchor="middle" font-size="11.9">t</text>
<text x="366.7" y="75.6" text-anchor="middle" font-size="12.1" transform="rotate(-90 366.7 75.6)">opinion concentrations <tspan font-family="Liberation Serif" font-style="italic">&#958;</tspan>(X<tspan font-size="8.5" dy="4.6">t</tspan><tspan dy="-4.6">)</tspan></text>
<g fill="none" stroke-width="2" stroke-linejoin="round" stroke-linecap="round" clip-path="url(#ctr)">
<path stroke="#00008f" d="M396.3 93.5C396.4 93.5 395.8 93.2 396.6 93.5C397.4 93.8 399.7 94.5 401.3 95.4C402.9 96.3 404.6 98.3 406 99C407.4 99.7 408.6 99.8 410 99.8C411.4 99.8 413.1 99 414.7 99.3C416.3 99.6 417.8 102 419.4 101.4C421 100.8 422.9 97.9 424.2 95.8C425.5 93.7 426.1 90.1 427.3 88.7C428.5 87.3 429.9 86.8 431.3 87.5C432.8 88.2 434.4 90.7 436 92.7C437.6 94.8 439.1 96.9 440.7 99.8C442.3 102.7 444.3 107.8 445.5 110C446.7 112.2 446.8 112.8 447.8 112.7C448.9 112.6 450.5 111.4 451.8 109.2C453.1 107 454.2 103.5 455.7 99.8C457.1 96.1 458.9 91.2 460.5 87.2C462.1 83.2 463.6 79.2 465.2 75.7C466.8 72.2 468.6 67.4 470 66C471.4 64.6 472.7 66 473.9 67.1C475.1 68.2 475.8 69.8 477 72.6C478.2 75.3 479.7 79.6 481 83.6C482.3 87.6 483.6 92.6 484.9 96.6C486.2 100.6 487.4 105.1 488.8 107.7C490.2 110.3 491.7 111.6 493.2 112.4C494.7 113.2 496.3 112.2 497.9 112.7C499.5 113.2 501 114.2 502.6 115.5C504.2 116.8 506.1 119.2 507.4 120.3C508.7 121.4 509.4 122.6 510.5 122.3C511.6 122 512.7 121.1 513.7 118.7C514.8 116.3 515.9 111.4 516.8 107.7C517.7 104 518.4 100.3 519.2 96.6C520 92.9 520.6 89.9 521.5 85.4C522.4 80.9 523.6 74 524.7 69.4C525.8 64.8 526.8 60.4 527.9 57.6C529 54.9 530 52.9 531.3 52.9C532.6 52.9 534.2 54.9 535.7 57.6C537.2 60.4 539 66 540.5 69.4C542 72.8 543.1 76.1 544.4 78.1C545.7 80.1 547.1 81.4 548.4 81.3C549.7 81.2 551 80.1 552.3 77.3C553.6 74.5 554.9 69.2 556.2 64.7C557.5 60.2 558.8 53.8 560.2 50.5C561.7 47.2 563.5 45.4 564.9 45C566.3 44.6 567.3 46.1 568.9 48.1C570.5 50.1 572.6 54.7 574.4 56.8C576.2 58.9 578.2 59.6 579.9 60.8C581.6 62 583.1 62.3 584.6 63.9C586.1 65.5 587.4 68 588.6 70.2C589.8 72.4 590.6 74.8 591.8 77.3C593 79.8 594.6 83.2 595.8 85.2C597 87.2 597.6 88.2 598.9 89.5C600.2 90.8 602.2 91.1 603.7 92.7C605.2 94.3 606.3 96.6 607.6 99C608.9 101.4 610 104.7 611.5 106.9C613 109.1 614.7 111.2 616.3 112.4C617.9 113.6 619.4 113.9 621 114.3C622.6 114.7 624.2 115.1 625.7 114.8C627.2 114.5 628.2 113.5 629.7 112.4C631.2 111.3 633.1 109.1 634.4 108.4C635.7 107.7 636.3 107.5 637.6 108.4C638.9 109.3 640.6 111.5 642.3 114C644 116.5 646.1 120.2 647.8 123.4C649.5 126.6 651.1 130.8 652.6 132.9C654.1 135 655.2 136.1 656.5 136C657.8 135.9 659.1 134.7 660.4 132.1C661.7 129.5 663.1 124.9 664.4 120.3C665.7 115.7 667 109.2 668.3 104.5C669.6 99.8 671.2 94.7 672.3 91.9C673.3 89.1 674.2 88.6 674.6 87.9"/>
<path stroke="#80ff80" d="M396.3 96.6C396.4 96.6 395.5 96.9 396.6 96.6C397.7 96.3 400.8 95.5 402.9 95C405 94.5 407.4 93.6 409.2 93.8C411 94 412.3 95.4 413.9 96.3C415.5 97.2 417.1 98.4 418.7 99C420.3 99.6 421.8 100.2 423.4 99.8C425 99.4 426.5 98.4 428.1 96.6C429.7 94.8 431.3 90.2 432.9 88.7C434.5 87.2 435.9 87.8 437.6 87.5C439.3 87.2 441.5 86.1 443.1 86.8C444.7 87.5 445.3 89.6 447 91.9C448.7 94.2 451.7 97.7 453.4 100.6C455.1 103.5 456.1 106 457.3 109.2C458.5 112.4 459.4 117 460.5 119.5C461.6 122 462.6 123.9 463.6 124.2C464.7 124.5 465.5 123.6 466.8 121.1C468.1 118.6 470.1 113 471.5 109.2C472.9 105.4 473.9 101.4 475.4 98.2C476.8 95 478.8 92.4 480.2 90.3C481.6 88.2 482.8 88.4 484.1 85.6C485.4 82.8 486.8 75.8 488 73.4C489.2 71 490.3 70.9 491.5 71C492.7 71.1 494.2 73.2 495 74.2C495.8 75.2 495.5 75.6 496.3 77.3C497.1 79 498.6 82.2 499.9 84.6C501.2 87 502.4 88.9 504.2 91.9C506 95 508.5 99 510.5 102.9C512.5 106.8 514.3 111.7 516 115.5C517.7 119.3 519.5 123.6 520.8 125.8C522.1 128 522.7 128.7 523.9 128.6C525.1 128.5 526.6 127.7 527.9 125C529.2 122.3 530.5 116.6 531.8 112.4C533.1 108.2 534.3 102.7 535.7 99.8C537.1 96.9 538.8 95 540.2 95C541.7 95 542.8 97.2 544.4 99.8C546 102.4 547.9 106.9 549.9 110.8C551.9 114.7 554.5 120.1 556.2 123.4C557.9 126.7 559 128.9 560.2 130.5C561.4 132.1 562.1 133.3 563.3 132.9C564.5 132.5 566 131.3 567.3 128.2C568.6 125 569.9 118.5 571.2 114C572.5 109.5 574 103.9 575.2 101.4C576.4 98.9 577.1 98.9 578.3 99C579.5 99.1 581 100.4 582.3 102.1C583.6 103.8 585 107.5 586.2 109.2C587.4 110.9 588.4 112.9 589.5 112.4C590.6 111.9 591.4 109.2 592.6 106.1C593.8 102.9 595.3 96.7 596.6 93.5C597.9 90.3 599.1 90.2 600.5 87.2C601.9 84.2 603.8 79.1 605.2 75.7C606.7 72.3 607.9 69.1 609.2 67.1C610.5 65.1 611.7 64.2 613.1 63.9C614.5 63.5 616.2 64.3 617.9 65C619.6 65.7 621.7 67.7 623.4 67.9C625.1 68.1 626.5 65.8 628.1 66C629.7 66.2 631.2 67.7 632.8 69.4C634.4 71.2 636.1 74 637.6 76.5C639.1 79 640.3 81.3 641.5 84.4C642.7 87.5 643.4 91.4 644.7 95C646 98.6 647.8 103.3 649.4 106.1C651 108.9 652.5 109.6 654.1 111.6C655.7 113.6 657.5 115.4 658.9 117.9C660.3 120.4 661.5 123.8 662.8 126.6C664.1 129.4 665.5 132.5 666.8 134.5C668.1 136.5 669.4 137.8 670.7 138.4C672 139.1 674 138.4 674.6 138.4"/>
<path stroke="#800000" d="M396.3 99C396.4 99 395.8 98.9 396.6 99C397.4 99.1 399.7 99.9 401.3 99.8C402.9 99.7 404.6 98.9 406 98.5C407.4 98.1 408.6 98 410 97.4C411.4 96.8 413.1 96.5 414.7 95C416.3 93.5 417.9 89.1 419.4 88.7C420.8 88.3 422.1 90.1 423.4 92.7C424.7 95.3 425.9 101.3 427.3 104.5C428.8 107.7 430.5 110.9 432.1 111.6C433.7 112.2 435.2 110.2 436.8 108.4C438.4 106.6 440.1 103.6 441.5 100.6C442.9 97.6 444.1 93.3 445.5 90.3C446.9 87.3 448.5 83.6 450.2 82.8C451.9 82 454 85.2 455.7 85.5C457.4 85.8 458.8 82.6 460.5 84.4C462.2 86.2 464.4 92.2 466 96.6C467.6 101 468.7 106.6 470 110.8C471.3 115 472.9 119.6 473.9 121.9C474.9 124.2 475.1 125.1 476.2 124.7C477.2 124.3 478.6 121.3 480.2 119.5C481.8 117.7 484 115.6 485.7 114C487.4 112.4 488.8 111.8 490.2 110C491.6 108.2 492.6 105.4 493.9 102.9C495.2 100.4 496.4 97.8 497.9 95C499.3 92.2 501.2 89.9 502.6 86.4C504.1 82.9 505.3 78.1 506.6 74.2C507.9 70.3 509.3 65.2 510.5 63.1C511.7 61 512.8 61.5 513.7 61.5C514.6 61.5 515.1 61.2 516 62.8C516.9 64.4 518 67.5 519.2 71C520.4 74.5 521.9 78.8 523.1 83.6C524.3 88.4 525.1 94.2 526.3 99.8C527.5 105.4 528.9 112.2 530.2 117.1C531.5 121.9 533.1 126.5 534.2 128.9C535.3 131.3 536 131.6 537 131.3C538 131.1 539.1 130.8 540.5 127.4C541.9 124 543.8 115.4 545.2 110.8C546.6 106.2 547.8 102.2 549.1 99.8C550.4 97.4 551.8 96.3 553.1 96.3C554.4 96.3 555.4 97.4 557 99.8C558.6 102.2 560.8 107.8 562.6 110.8C564.5 113.8 566.5 115.5 568.1 117.9C569.7 120.3 570.5 122.8 572 125C573.5 127.2 575.3 130.6 576.8 131.3C578.2 132 579.4 131.1 580.7 129C582 126.9 583.4 122 584.6 118.7C585.8 115.4 586.6 111.9 587.9 109.2C589.2 106.5 591.1 103.2 592.6 102.6C594.1 101.9 595.2 103.5 596.6 105.3C598 107.1 599.9 111 601.3 113.2C602.7 115.4 604 117.4 605.2 118.7C606.4 120 607.2 121.2 608.4 121.1C609.6 121 610.7 119.4 612.3 117.9C613.9 116.5 616 114.1 617.9 112.4C619.8 110.8 621.8 108.4 623.4 108C625 107.6 625.9 109.4 627.3 110C628.7 110.6 630.5 111.6 632 111.6C633.5 111.6 634.8 111.2 636 110C637.2 108.8 638.2 107 639.1 104.5C640 102 640.8 98.2 641.5 95C642.2 91.8 642.3 89.9 643.1 85.6C643.9 81.3 645 74.5 646.2 69.4C647.4 64.3 648.9 59.4 650.2 55.2C651.5 51 652.8 47.1 654.1 44.2C655.4 41.3 656.8 39.3 658.1 37.9C659.4 36.5 660.7 35.5 662 36C663.3 36.5 664.8 38.3 666 41C667.2 43.7 667.9 48.7 669.1 52.1C670.3 55.5 672.1 59.2 673.1 61.5C674.1 63.8 675 65.2 675.4 66"/>
</g>
<rect x="43.5" y="191.5" width="279.3" height="128.7" fill="none" stroke="#262626" stroke-width="0.6"/>
<line x1="43.5" y1="320.2" x2="43.5" y2="317.4" stroke="#262626" stroke-width="0.6"/>
<line x1="43.5" y1="191.5" x2="43.5" y2="194.3" stroke="#262626" stroke-width="0.6"/>
<line x1="113.3" y1="320.2" x2="113.3" y2="317.4" stroke="#262626" stroke-width="0.6"/>
<line x1="113.3" y1="191.5" x2="113.3" y2="194.3" stroke="#262626" stroke-width="0.6"/>
<line x1="183.2" y1="320.2" x2="183.2" y2="317.4" stroke="#262626" stroke-width="0.6"/>
<line x1="183.2" y1="191.5" x2="183.2" y2="194.3" stroke="#262626" stroke-width="0.6"/>
<line x1="253" y1="320.2" x2="253" y2="317.4" stroke="#262626" stroke-width="0.6"/>
<line x1="253" y1="191.5" x2="253" y2="194.3" stroke="#262626" stroke-width="0.6"/>
<line x1="322.8" y1="320.2" x2="322.8" y2="317.4" stroke="#262626" stroke-width="0.6"/>
<line x1="322.8" y1="191.5" x2="322.8" y2="194.3" stroke="#262626" stroke-width="0.6"/>
<line x1="43.5" y1="320.2" x2="46.3" y2="320.2" stroke="#262626" stroke-width="0.6"/>
<line x1="322.8" y1="320.2" x2="320" y2="320.2" stroke="#262626" stroke-width="0.6"/>
<line x1="43.5" y1="277.3" x2="46.3" y2="277.3" stroke="#262626" stroke-width="0.6"/>
<line x1="322.8" y1="277.3" x2="320" y2="277.3" stroke="#262626" stroke-width="0.6"/>
<line x1="43.5" y1="234.4" x2="46.3" y2="234.4" stroke="#262626" stroke-width="0.6"/>
<line x1="322.8" y1="234.4" x2="320" y2="234.4" stroke="#262626" stroke-width="0.6"/>
<line x1="43.5" y1="191.5" x2="46.3" y2="191.5" stroke="#262626" stroke-width="0.6"/>
<line x1="322.8" y1="191.5" x2="320" y2="191.5" stroke="#262626" stroke-width="0.6"/>
<text x="43.5" y="335.5" text-anchor="middle" font-size="10.8">0</text>
<text x="113.3" y="335.5" text-anchor="middle" font-size="10.8">5</text>
<text x="183.2" y="335.5" text-anchor="middle" font-size="10.8">10</text>
<text x="253" y="335.5" text-anchor="middle" font-size="10.8">15</text>
<text x="322.8" y="335.5" text-anchor="middle" font-size="10.8">20</text>
<text x="39.8" y="324.5" text-anchor="end" font-size="10.8">0.05</text>
<text x="39.8" y="281.6" text-anchor="end" font-size="10.8">0.1</text>
<text x="39.8" y="238.7" text-anchor="end" font-size="10.8">0.15</text>
<text x="39.8" y="195.8" text-anchor="end" font-size="10.8">0.2</text>
<text x="183" y="350" text-anchor="middle" font-size="11.9">p</text>
<text x="183" y="187.4" text-anchor="middle" font-size="11.9" font-weight="bold">20-step prediction</text>
<text x="14.1" y="254.7" text-anchor="middle" font-size="12.05" transform="rotate(-90 14.1 254.7)">Mean rel. Error per block</text>
<polyline fill="none" stroke="#0072bd" stroke-width="2.1" stroke-linejoin="round" points="57.5,223.1 71.4,269.9 85.4,286.7 99.4,289.7 113.3,288.2 127.3,287 141.3,287.3 155.2,289.1 169.2,290.9 183.2,293.5 197.1,295.7 211.1,297.5 225,299.4 239,300.7 253,301.6 266.9,302.1 280.9,302.1 294.9,302.1 308.8,302.1 322.8,302.1"/>
<circle cx="57.5" cy="223.1" r="3.6" fill="#0072bd"/>
<circle cx="71.4" cy="269.9" r="3.6" fill="#0072bd"/>
<circle cx="85.4" cy="286.7" r="3.6" fill="#0072bd"/>
<circle cx="99.4" cy="289.7" r="3.6" fill="#0072bd"/>
<circle cx="113.3" cy="288.2" r="3.6" fill="#0072bd"/>
<circle cx="127.3" cy="287" r="3.6" fill="#0072bd"/>
<circle cx="141.3" cy="287.3" r="3.6" fill="#0072bd"/>
<circle cx="155.2" cy="289.1" r="3.6" fill="#0072bd"/>
<circle cx="169.2" cy="290.9" r="3.6" fill="#0072bd"/>
<circle cx="183.2" cy="293.5" r="3.6" fill="#0072bd"/>
<circle cx="197.1" cy="295.7" r="3.6" fill="#0072bd"/>
<circle cx="211.1" cy="297.5" r="3.6" fill="#0072bd"/>
<circle cx="225" cy="299.4" r="3.6" fill="#0072bd"/>
<circle cx="239" cy="300.7" r="3.6" fill="#0072bd"/>
<circle cx="253" cy="301.6" r="3.6" fill="#0072bd"/>
<circle cx="266.9" cy="302.1" r="3.6" fill="#0072bd"/>
<circle cx="280.9" cy="302.1" r="3.6" fill="#0072bd"/>
<circle cx="294.9" cy="302.1" r="3.6" fill="#0072bd"/>
<circle cx="308.8" cy="302.1" r="3.6" fill="#0072bd"/>
<circle cx="322.8" cy="302.1" r="3.6" fill="#0072bd"/>
<polyline fill="none" stroke="#ff0000" stroke-width="2.1" stroke-linejoin="round" points="57.5,209.2 71.4,266.9 85.4,280.2 99.4,280.2 113.3,278.2 127.3,279.6 141.3,280.2 155.2,283.2 169.2,285.6 183.2,290.4 197.1,292.3 211.1,295.3 225,295.7 239,295.7 253,290.5 266.9,293 280.9,295.1 294.9,293.9 308.8,293 322.8,286.2"/>
<circle cx="57.5" cy="209.2" r="3.6" fill="#ff0000"/>
<circle cx="71.4" cy="266.9" r="3.6" fill="#ff0000"/>
<circle cx="85.4" cy="280.2" r="3.6" fill="#ff0000"/>
<circle cx="99.4" cy="280.2" r="3.6" fill="#ff0000"/>
<circle cx="113.3" cy="278.2" r="3.6" fill="#ff0000"/>
<circle cx="127.3" cy="279.6" r="3.6" fill="#ff0000"/>
<circle cx="141.3" cy="280.2" r="3.6" fill="#ff0000"/>
<circle cx="155.2" cy="283.2" r="3.6" fill="#ff0000"/>
<circle cx="169.2" cy="285.6" r="3.6" fill="#ff0000"/>
<circle cx="183.2" cy="290.4" r="3.6" fill="#ff0000"/>
<circle cx="197.1" cy="292.3" r="3.6" fill="#ff0000"/>
<circle cx="211.1" cy="295.3" r="3.6" fill="#ff0000"/>
<circle cx="225" cy="295.7" r="3.6" fill="#ff0000"/>
<circle cx="239" cy="295.7" r="3.6" fill="#ff0000"/>
<circle cx="253" cy="290.5" r="3.6" fill="#ff0000"/>
<circle cx="266.9" cy="293" r="3.6" fill="#ff0000"/>
<circle cx="280.9" cy="295.1" r="3.6" fill="#ff0000"/>
<circle cx="294.9" cy="293.9" r="3.6" fill="#ff0000"/>
<circle cx="308.8" cy="293" r="3.6" fill="#ff0000"/>
<circle cx="322.8" cy="286.2" r="3.6" fill="#ff0000"/>
<rect x="233.6" y="199" width="79.2" height="28.4" fill="#fff" stroke="#262626" stroke-width="0.6"/>
<line x1="237.2" y1="206.5" x2="272.8" y2="206.5" stroke="#0072bd" stroke-width="2"/>
<circle cx="255" cy="206.5" r="3.6" fill="#0072bd"/>
<text x="276.6" y="211.4" font-size="10.5" font-family="Liberation Serif">&#955;</text>
<text x="284.9" y="211.8" font-size="10">=</text>
<text x="292.7" y="211.4" font-size="10.5">0</text>
<line x1="237.2" y1="219.9" x2="272.8" y2="219.9" stroke="#ff0000" stroke-width="2"/>
<circle cx="255" cy="219.9" r="3.6" fill="#ff0000"/>
<text x="276.6" y="224.8" font-size="10.5" font-family="Liberation Serif">&#955;</text>
<text x="284.9" y="225.2" font-size="10">=</text>
<text x="290.3" y="224.8" font-size="10.5" textLength="19.2" lengthAdjust="spacingAndGlyphs">0.05</text>
<rect x="396" y="191.5" width="279.1" height="128.7" fill="none" stroke="#262626" stroke-width="0.6"/>
<line x1="396" y1="320.2" x2="396" y2="317.4" stroke="#262626" stroke-width="0.6"/>
<line x1="396" y1="191.5" x2="396" y2="194.3" stroke="#262626" stroke-width="0.6"/>
<line x1="465.8" y1="320.2" x2="465.8" y2="317.4" stroke="#262626" stroke-width="0.6"/>
<line x1="465.8" y1="191.5" x2="465.8" y2="194.3" stroke="#262626" stroke-width="0.6"/>
<line x1="535.5" y1="320.2" x2="535.5" y2="317.4" stroke="#262626" stroke-width="0.6"/>
<line x1="535.5" y1="191.5" x2="535.5" y2="194.3" stroke="#262626" stroke-width="0.6"/>
<line x1="605.3" y1="320.2" x2="605.3" y2="317.4" stroke="#262626" stroke-width="0.6"/>
<line x1="605.3" y1="191.5" x2="605.3" y2="194.3" stroke="#262626" stroke-width="0.6"/>
<line x1="675.1" y1="320.2" x2="675.1" y2="317.4" stroke="#262626" stroke-width="0.6"/>
<line x1="675.1" y1="191.5" x2="675.1" y2="194.3" stroke="#262626" stroke-width="0.6"/>
<line x1="396" y1="312.4" x2="398.8" y2="312.4" stroke="#262626" stroke-width="0.6"/>
<line x1="675.1" y1="312.4" x2="672.3" y2="312.4" stroke="#262626" stroke-width="0.6"/>
<line x1="396" y1="288.9" x2="398.8" y2="288.9" stroke="#262626" stroke-width="0.6"/>
<line x1="675.1" y1="288.9" x2="672.3" y2="288.9" stroke="#262626" stroke-width="0.6"/>
<line x1="396" y1="265.4" x2="398.8" y2="265.4" stroke="#262626" stroke-width="0.6"/>
<line x1="675.1" y1="265.4" x2="672.3" y2="265.4" stroke="#262626" stroke-width="0.6"/>
<line x1="396" y1="241.9" x2="398.8" y2="241.9" stroke="#262626" stroke-width="0.6"/>
<line x1="675.1" y1="241.9" x2="672.3" y2="241.9" stroke="#262626" stroke-width="0.6"/>
<line x1="396" y1="218.5" x2="398.8" y2="218.5" stroke="#262626" stroke-width="0.6"/>
<line x1="675.1" y1="218.5" x2="672.3" y2="218.5" stroke="#262626" stroke-width="0.6"/>
<line x1="396" y1="195" x2="398.8" y2="195" stroke="#262626" stroke-width="0.6"/>
<line x1="675.1" y1="195" x2="672.3" y2="195" stroke="#262626" stroke-width="0.6"/>
<text x="396" y="335.5" text-anchor="middle" font-size="10.8">0</text>
<text x="465.8" y="335.5" text-anchor="middle" font-size="10.8">5</text>
<text x="535.5" y="335.5" text-anchor="middle" font-size="10.8">10</text>
<text x="605.3" y="335.5" text-anchor="middle" font-size="10.8">15</text>
<text x="675.1" y="335.5" text-anchor="middle" font-size="10.8">20</text>
<text x="392.3" y="316.7" text-anchor="end" font-size="10.8">0.006</text>
<text x="392.3" y="293.2" text-anchor="end" font-size="10.8">0.008</text>
<text x="392.3" y="269.7" text-anchor="end" font-size="10.8">0.01</text>
<text x="392.3" y="246.2" text-anchor="end" font-size="10.8">0.012</text>
<text x="392.3" y="222.8" text-anchor="end" font-size="10.8">0.014</text>
<text x="392.3" y="199.3" text-anchor="end" font-size="10.8">0.016</text>
<text x="535.5" y="350" text-anchor="middle" font-size="11.9">p</text>
<text x="535.5" y="187.4" text-anchor="middle" font-size="11.9" font-weight="bold">One-step prediction</text>
<text x="360.2" y="255.5" text-anchor="middle" font-size="11.9" transform="rotate(-90 360.2 255.5)">rel. Error</text>
<polyline fill="none" stroke="#0072bd" stroke-width="2.1" stroke-linejoin="round" points="410,209.4 423.9,307.5 437.9,316.4 451.8,318.6 465.8,318.9 479.7,319.1 493.7,319.2 507.6,319.4 521.6,319.6 535.5,319.8 549.5,320 563.5,320.1 577.4,320.2 591.4,320.4 605.3,320.3 619.3,320.4 633.2,320.4 647.2,320.4 661.1,320.4 675.1,320.3"/>
<circle cx="410" cy="209.4" r="3.6" fill="#0072bd"/>
<circle cx="423.9" cy="307.5" r="3.6" fill="#0072bd"/>
<circle cx="437.9" cy="316.4" r="3.6" fill="#0072bd"/>
<circle cx="451.8" cy="318.6" r="3.6" fill="#0072bd"/>
<circle cx="465.8" cy="318.9" r="3.6" fill="#0072bd"/>
<circle cx="479.7" cy="319.1" r="3.6" fill="#0072bd"/>
<circle cx="493.7" cy="319.2" r="3.6" fill="#0072bd"/>
<circle cx="507.6" cy="319.4" r="3.6" fill="#0072bd"/>
<circle cx="521.6" cy="319.6" r="3.6" fill="#0072bd"/>
<circle cx="535.5" cy="319.8" r="3.6" fill="#0072bd"/>
<circle cx="549.5" cy="320" r="3.6" fill="#0072bd"/>
<circle cx="563.5" cy="320.1" r="3.6" fill="#0072bd"/>
<circle cx="577.4" cy="320.2" r="3.6" fill="#0072bd"/>
<circle cx="591.4" cy="320.4" r="3.6" fill="#0072bd"/>
<circle cx="605.3" cy="320.3" r="3.6" fill="#0072bd"/>
<circle cx="619.3" cy="320.4" r="3.6" fill="#0072bd"/>
<circle cx="633.2" cy="320.4" r="3.6" fill="#0072bd"/>
<circle cx="647.2" cy="320.4" r="3.6" fill="#0072bd"/>
<circle cx="661.1" cy="320.4" r="3.6" fill="#0072bd"/>
<circle cx="675.1" cy="320.3" r="3.6" fill="#0072bd"/>
<polyline fill="none" stroke="#ff0000" stroke-width="2.1" stroke-linejoin="round" points="410,191.1 423.9,306.6 437.9,314.6 451.8,316.7 465.8,316.7 479.7,316.7 493.7,316.7 507.6,317.1 521.6,317.6 535.5,317.8 549.5,318.2 563.5,318.6 577.4,318.8 591.4,319.2 605.3,317.7 619.3,317.9 633.2,318.6 647.2,317.9 661.1,317.9 675.1,317.3"/>
<circle cx="410" cy="191.1" r="3.6" fill="#ff0000"/>
<circle cx="423.9" cy="306.6" r="3.6" fill="#ff0000"/>
<circle cx="437.9" cy="314.6" r="3.6" fill="#ff0000"/>
<circle cx="451.8" cy="316.7" r="3.6" fill="#ff0000"/>
<circle cx="465.8" cy="316.7" r="3.6" fill="#ff0000"/>
<circle cx="479.7" cy="316.7" r="3.6" fill="#ff0000"/>
<circle cx="493.7" cy="316.7" r="3.6" fill="#ff0000"/>
<circle cx="507.6" cy="317.1" r="3.6" fill="#ff0000"/>
<circle cx="521.6" cy="317.6" r="3.6" fill="#ff0000"/>
<circle cx="535.5" cy="317.8" r="3.6" fill="#ff0000"/>
<circle cx="549.5" cy="318.2" r="3.6" fill="#ff0000"/>
<circle cx="563.5" cy="318.6" r="3.6" fill="#ff0000"/>
<circle cx="577.4" cy="318.8" r="3.6" fill="#ff0000"/>
<circle cx="591.4" cy="319.2" r="3.6" fill="#ff0000"/>
<circle cx="605.3" cy="317.7" r="3.6" fill="#ff0000"/>
<circle cx="619.3" cy="317.9" r="3.6" fill="#ff0000"/>
<circle cx="633.2" cy="318.6" r="3.6" fill="#ff0000"/>
<circle cx="647.2" cy="317.9" r="3.6" fill="#ff0000"/>
<circle cx="661.1" cy="317.9" r="3.6" fill="#ff0000"/>
<circle cx="675.1" cy="317.3" r="3.6" fill="#ff0000"/>
<rect x="585.7" y="199" width="80.2" height="28.4" fill="#fff" stroke="#262626" stroke-width="0.6"/>
<line x1="589.6" y1="206.4" x2="625.4" y2="206.4" stroke="#0072bd" stroke-width="2"/>
<circle cx="607.4" cy="206.4" r="3.6" fill="#0072bd"/>
<text x="629" y="211.3" font-size="10.5" font-family="Liberation Serif">&#955;</text>
<text x="637.3" y="211.7" font-size="10">=</text>
<text x="645.1" y="211.3" font-size="10.5">0</text>
<line x1="589.6" y1="219.7" x2="625.4" y2="219.7" stroke="#ff0000" stroke-width="2"/>
<circle cx="607.4" cy="219.7" r="3.6" fill="#ff0000"/>
<text x="629" y="224.6" font-size="10.5" font-family="Liberation Serif">&#955;</text>
<text x="637.3" y="225" font-size="10">=</text>
<text x="642.7" y="224.6" font-size="10.5" textLength="19.2" lengthAdjust="spacingAndGlyphs">0.05</text>
</svg>
</body></html>
